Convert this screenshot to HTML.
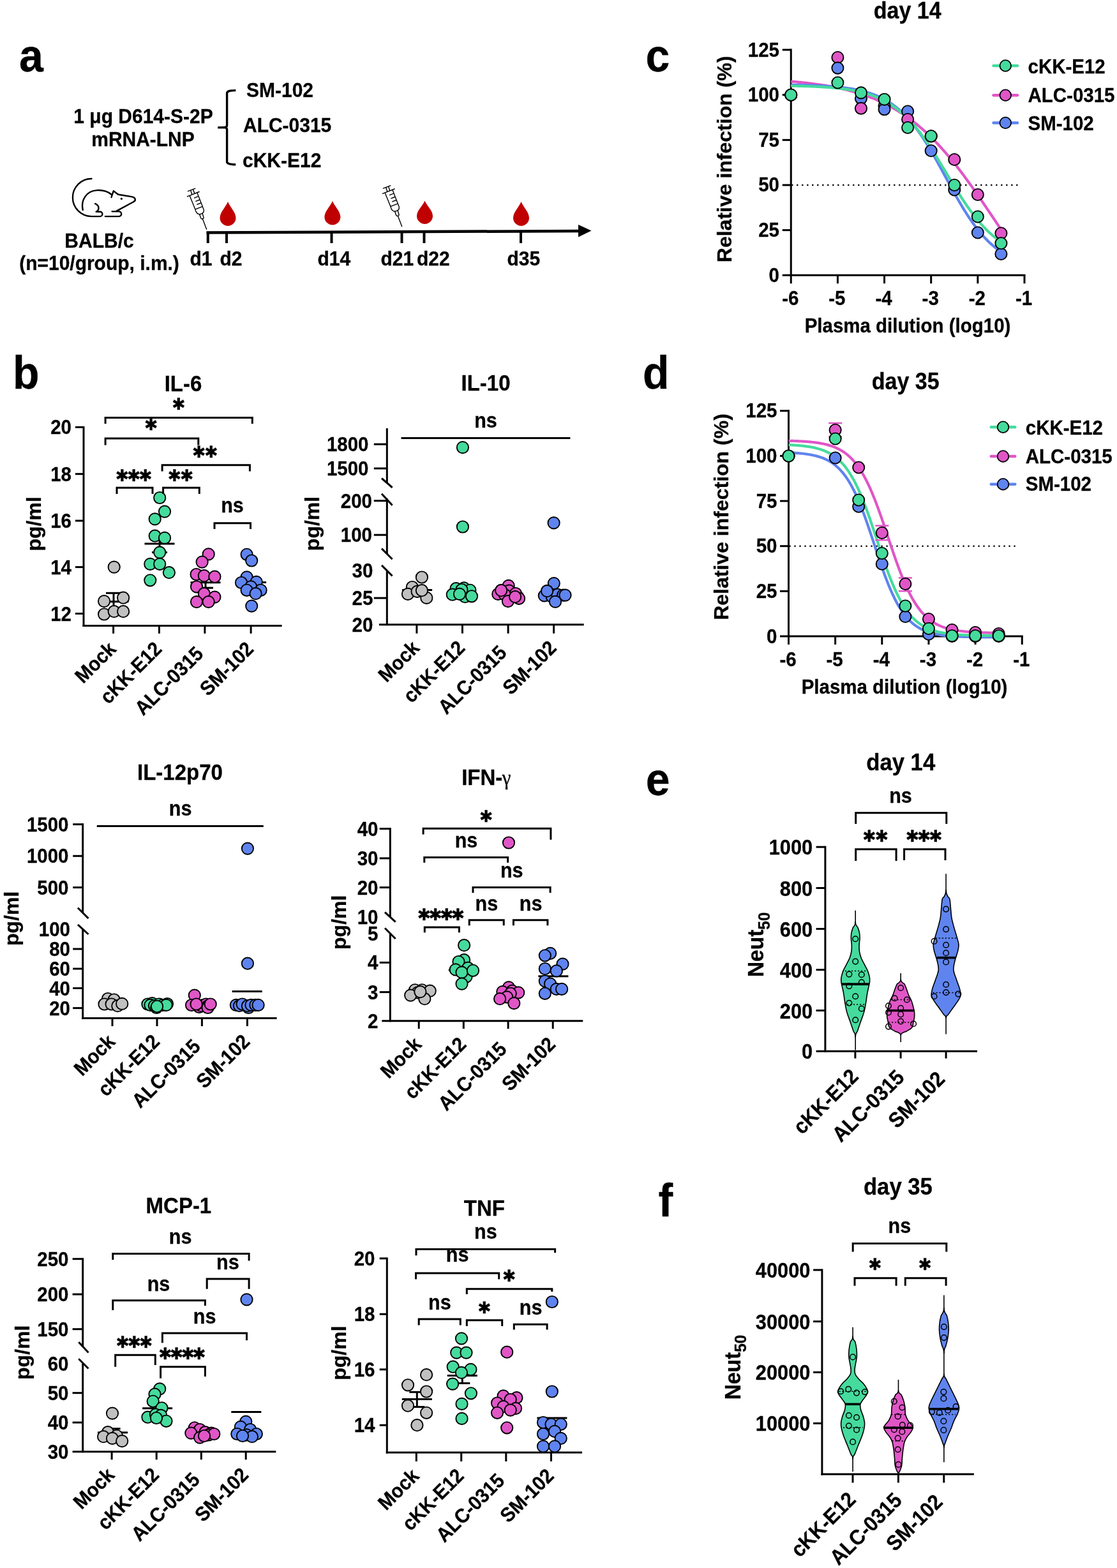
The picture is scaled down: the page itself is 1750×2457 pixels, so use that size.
<!DOCTYPE html>
<html><head><meta charset="utf-8"><title>Figure</title>
<style>html,body{margin:0;padding:0;background:#fff;}svg{display:block;}svg text{stroke:#000;stroke-width:0.3px;stroke-linejoin:round;}</style></head>
<body><svg xmlns="http://www.w3.org/2000/svg" width="1750" height="2457" viewBox="0 0 1750 2457" font-family='"Liberation Sans", Arial, Helvetica, sans-serif' fill="#000">
<rect x="0" y="0" width="1750" height="2457" fill="#fff"/>
<text x="0" y="0" font-size="68" text-anchor="start" font-weight="bold" transform="translate(30 112) scale(1 1.070)">a</text>
<text x="0" y="0" font-size="30" text-anchor="middle" font-weight="bold" transform="translate(224.5 193.3) scale(1 1.070)">1 &#956;g D614-S-2P</text>
<text x="0" y="0" font-size="30" text-anchor="middle" font-weight="bold" transform="translate(224 228.8) scale(1 1.070)">mRNA-LNP</text>
<path d="M369.3,141.6 C362,141.8 355.6,142 355.6,146 L355.6,196.5 Q355.6,199.4 351.5,199.6 L341.2,199.9 M351.5,199.6 Q355.6,199.8 355.6,203 L355.6,253.5 C355.6,257 362,257.6 369.3,257.9" stroke="#000" stroke-width="3.4" fill="none" stroke-linecap="butt" stroke-linejoin="round"/>
<text x="0" y="0" font-size="30" text-anchor="start" font-weight="bold" transform="translate(386 151.8) scale(1 1.070)">SM-102</text>
<text x="0" y="0" font-size="30" text-anchor="start" font-weight="bold" transform="translate(381 206.8) scale(1 1.070)">ALC-0315</text>
<text x="0" y="0" font-size="30" text-anchor="start" font-weight="bold" transform="translate(380 261.8) scale(1 1.070)">cKK-E12</text>
<g transform="translate(105,270) scale(0.07391)" fill="none" stroke="#000" stroke-width="32" stroke-linecap="round" stroke-linejoin="round">
<path d="M520,135 A400,400 0 0 0 520,935 L700,935 A50,50 0 0 0 700,835 L620,835"/>
<path d="M595,665 C690,700 690,800 620,835"/>
<path d="M335,800 C290,600 400,390 640,380 C780,375 880,420 940,470"/>
<path d="M940,530 L985,395 L1085,470"/>
<path d="M1085,470 L1380,520 C1450,535 1470,600 1410,625 L1050,820"/>
<path d="M955,830 L1100,830 A52,52 0 0 1 1100,935 L810,935"/>
<circle cx="1155" cy="560" r="22" fill="#000" stroke="none"/>
</g>
<text x="0" y="0" font-size="30" text-anchor="middle" font-weight="bold" transform="translate(155.5 388.3) scale(1 1.070)">BALB/c</text>
<text x="0" y="0" font-size="30" text-anchor="middle" font-weight="bold" transform="translate(155.5 423.3) scale(1 1.070)">(n=10/group, i.m.)</text>
<g transform="translate(285,285) scale(0.03694)" fill="none" stroke="#000" stroke-width="38" stroke-linecap="round" stroke-linejoin="round">
<path d="M255,395 L560,280 M375,370 L425,530 M480,330 L535,495 M230,620 L735,420"/>
<path d="M330,590 L570,1180 C600,1310 680,1375 760,1375 L860,1335 C930,1290 940,1240 925,1180 L650,470"/>
<path d="M530,680 L680,620 M590,820 L740,765 M645,960 L795,900 M575,1160 L855,1050"/>
<path d="M750,1380 L800,1530 C820,1580 900,1590 925,1520 L870,1340"/>
<path d="M880,1580 L1045,2010"/>
</g>
<g transform="translate(591,280.5) scale(0.03694)" fill="none" stroke="#000" stroke-width="38" stroke-linecap="round" stroke-linejoin="round">
<path d="M255,395 L560,280 M375,370 L425,530 M480,330 L535,495 M230,620 L735,420"/>
<path d="M330,590 L570,1180 C600,1310 680,1375 760,1375 L860,1335 C930,1290 940,1240 925,1180 L650,470"/>
<path d="M530,680 L680,620 M590,820 L740,765 M645,960 L795,900 M575,1160 L855,1050"/>
<path d="M750,1380 L800,1530 C820,1580 900,1590 925,1520 L870,1340"/>
<path d="M880,1580 L1045,2010"/>
</g>
<path d="M357,316 C360,324 369.5,332.5 369.5,341.5 A12.5,12.5 0 0 1 344.5,341.5 C344.5,332.5 354,324 357,316 Z" stroke="none" stroke-width="0" fill="#C00000"/>
<path d="M520.9,315 C523.9,323 533.4,331 533.4,340 A12.5,12.5 0 0 1 508.4,340 C508.4,331 517.9,323 520.9,315 Z" stroke="none" stroke-width="0" fill="#C00000"/>
<path d="M665.5,314.5 C668.5,322.5 678,329.5 678,338.5 A12.5,12.5 0 0 1 653,338.5 C653,329.5 662.5,322.5 665.5,314.5 Z" stroke="none" stroke-width="0" fill="#C00000"/>
<path d="M816.5,316 C819.5,324 829,332.5 829,341.5 A12.5,12.5 0 0 1 804,341.5 C804,332.5 813.5,324 816.5,316 Z" stroke="none" stroke-width="0" fill="#C00000"/>
<line x1="323.5" y1="364.5" x2="910" y2="362" stroke="#000" stroke-width="4.5" stroke-linecap="butt"/>
<polygon points="906,352 926.5,361.5 906,371.5" fill="#000"/>
<line x1="325.75" y1="363" x2="325.75" y2="381" stroke="#000" stroke-width="4" stroke-linecap="butt"/>
<line x1="355" y1="363" x2="355" y2="381" stroke="#000" stroke-width="4" stroke-linecap="butt"/>
<line x1="519.5" y1="363" x2="519.5" y2="381" stroke="#000" stroke-width="4" stroke-linecap="butt"/>
<line x1="629.5" y1="363" x2="629.5" y2="381" stroke="#000" stroke-width="4" stroke-linecap="butt"/>
<line x1="664.5" y1="363" x2="664.5" y2="381" stroke="#000" stroke-width="4" stroke-linecap="butt"/>
<line x1="816" y1="363" x2="816" y2="381" stroke="#000" stroke-width="4" stroke-linecap="butt"/>
<text x="0" y="0" font-size="30" text-anchor="start" font-weight="bold" transform="translate(297.5 416.3) scale(1 1.070)">d1</text>
<text x="0" y="0" font-size="30" text-anchor="start" font-weight="bold" transform="translate(344.5 416.3) scale(1 1.070)">d2</text>
<text x="0" y="0" font-size="30" text-anchor="start" font-weight="bold" transform="translate(497.5 416.3) scale(1 1.070)">d14</text>
<text x="0" y="0" font-size="30" text-anchor="start" font-weight="bold" transform="translate(596.5 416.3) scale(1 1.070)">d21</text>
<text x="0" y="0" font-size="30" text-anchor="start" font-weight="bold" transform="translate(653 416.3) scale(1 1.070)">d22</text>
<text x="0" y="0" font-size="30" text-anchor="start" font-weight="bold" transform="translate(794.5 416.3) scale(1 1.070)">d35</text>
<text x="0" y="0" font-size="33" text-anchor="middle" font-weight="bold" transform="translate(287 613.4) scale(1 1.070)">IL-6</text>
<line x1="131" y1="668" x2="131" y2="981.9" stroke="#000" stroke-width="3" stroke-linecap="butt"/>
<line x1="129.5" y1="980.4" x2="441.6" y2="980.4" stroke="#000" stroke-width="3" stroke-linecap="butt"/>
<line x1="118" y1="669.4" x2="131" y2="669.4" stroke="#000" stroke-width="3" stroke-linecap="butt"/>
<text x="0" y="0" font-size="29.5" text-anchor="end" font-weight="bold" transform="translate(112 680.4) scale(1 1.070)">20</text>
<line x1="118" y1="742.7" x2="131" y2="742.7" stroke="#000" stroke-width="3" stroke-linecap="butt"/>
<text x="0" y="0" font-size="29.5" text-anchor="end" font-weight="bold" transform="translate(112 753.7) scale(1 1.070)">18</text>
<line x1="118" y1="816" x2="131" y2="816" stroke="#000" stroke-width="3" stroke-linecap="butt"/>
<text x="0" y="0" font-size="29.5" text-anchor="end" font-weight="bold" transform="translate(112 827) scale(1 1.070)">16</text>
<line x1="118" y1="888.6" x2="131" y2="888.6" stroke="#000" stroke-width="3" stroke-linecap="butt"/>
<text x="0" y="0" font-size="29.5" text-anchor="end" font-weight="bold" transform="translate(112 899.6) scale(1 1.070)">14</text>
<line x1="118" y1="961.5" x2="131" y2="961.5" stroke="#000" stroke-width="3" stroke-linecap="butt"/>
<text x="0" y="0" font-size="29.5" text-anchor="end" font-weight="bold" transform="translate(112 972.5) scale(1 1.070)">12</text>
<line x1="177.6" y1="980.4" x2="177.6" y2="992.7" stroke="#000" stroke-width="3" stroke-linecap="butt"/>
<line x1="249.4" y1="980.4" x2="249.4" y2="992.7" stroke="#000" stroke-width="3" stroke-linecap="butt"/>
<line x1="320.9" y1="980.4" x2="320.9" y2="992.7" stroke="#000" stroke-width="3" stroke-linecap="butt"/>
<line x1="393.1" y1="980.4" x2="393.1" y2="992.7" stroke="#000" stroke-width="3" stroke-linecap="butt"/>
<text x="0" y="0" font-size="29.5" text-anchor="end" font-weight="bold" transform="translate(183.6 1018.9) rotate(-45) scale(1 1.070)">Mock</text>
<text x="0" y="0" font-size="29.5" text-anchor="end" font-weight="bold" transform="translate(255.4 1018.9) rotate(-45) scale(1 1.070)">cKK-E12</text>
<text x="0" y="0" font-size="29.5" text-anchor="end" font-weight="bold" transform="translate(320.4 1026.4) rotate(-45) scale(1 1.070)">ALC-0315</text>
<text x="0" y="0" font-size="29.5" text-anchor="end" font-weight="bold" transform="translate(399.1 1018.9) rotate(-45) scale(1 1.070)">SM-102</text>
<text x="0" y="0" font-size="32" text-anchor="middle" font-weight="bold" transform="translate(64.2 820.9) rotate(-90)">pg/ml</text>
<line x1="178" y1="929.3" x2="178" y2="956.3" stroke="#000" stroke-width="3" stroke-linecap="butt"/>
<line x1="166" y1="929.3" x2="190" y2="929.3" stroke="#000" stroke-width="3" stroke-linecap="butt"/>
<line x1="166" y1="956.3" x2="190" y2="956.3" stroke="#000" stroke-width="3" stroke-linecap="butt"/>
<line x1="154.5" y1="942.8" x2="201.5" y2="942.8" stroke="#000" stroke-width="3" stroke-linecap="butt"/>
<line x1="250" y1="838.4" x2="250" y2="865.6" stroke="#000" stroke-width="3" stroke-linecap="butt"/>
<line x1="238" y1="838.4" x2="262" y2="838.4" stroke="#000" stroke-width="3" stroke-linecap="butt"/>
<line x1="238" y1="865.6" x2="262" y2="865.6" stroke="#000" stroke-width="3" stroke-linecap="butt"/>
<line x1="226.5" y1="852" x2="273.5" y2="852" stroke="#000" stroke-width="3" stroke-linecap="butt"/>
<line x1="322" y1="904.4" x2="322" y2="921.2" stroke="#000" stroke-width="3" stroke-linecap="butt"/>
<line x1="310" y1="904.4" x2="334" y2="904.4" stroke="#000" stroke-width="3" stroke-linecap="butt"/>
<line x1="310" y1="921.2" x2="334" y2="921.2" stroke="#000" stroke-width="3" stroke-linecap="butt"/>
<line x1="298.5" y1="912.8" x2="345.5" y2="912.8" stroke="#000" stroke-width="3" stroke-linecap="butt"/>
<line x1="393.6" y1="905" x2="393.6" y2="920" stroke="#000" stroke-width="3" stroke-linecap="butt"/>
<line x1="381.6" y1="905" x2="405.6" y2="905" stroke="#000" stroke-width="3" stroke-linecap="butt"/>
<line x1="381.6" y1="920" x2="405.6" y2="920" stroke="#000" stroke-width="3" stroke-linecap="butt"/>
<line x1="370.1" y1="912.4" x2="417.1" y2="912.4" stroke="#000" stroke-width="3" stroke-linecap="butt"/>
<circle cx="178.7" cy="888.6" r="9.15" fill="#C0C0C0" stroke="#000" stroke-width="1.9"/>
<circle cx="163.1" cy="942.1" r="9.15" fill="#C0C0C0" stroke="#000" stroke-width="1.9"/>
<circle cx="193.1" cy="936.7" r="9.15" fill="#C0C0C0" stroke="#000" stroke-width="1.9"/>
<circle cx="163.1" cy="962.5" r="9.15" fill="#C0C0C0" stroke="#000" stroke-width="1.9"/>
<circle cx="178.7" cy="958.2" r="9.15" fill="#C0C0C0" stroke="#000" stroke-width="1.9"/>
<circle cx="193.1" cy="958.2" r="9.15" fill="#C0C0C0" stroke="#000" stroke-width="1.9"/>
<circle cx="250.2" cy="780" r="9.15" fill="#45DB9D" stroke="#000" stroke-width="1.9"/>
<circle cx="258" cy="801.6" r="9.15" fill="#45DB9D" stroke="#000" stroke-width="1.9"/>
<circle cx="242.7" cy="813.4" r="9.15" fill="#45DB9D" stroke="#000" stroke-width="1.9"/>
<circle cx="242.7" cy="839.7" r="9.15" fill="#45DB9D" stroke="#000" stroke-width="1.9"/>
<circle cx="258" cy="842.9" r="9.15" fill="#45DB9D" stroke="#000" stroke-width="1.9"/>
<circle cx="250.2" cy="865.6" r="9.15" fill="#45DB9D" stroke="#000" stroke-width="1.9"/>
<circle cx="235.3" cy="883.9" r="9.15" fill="#45DB9D" stroke="#000" stroke-width="1.9"/>
<circle cx="250.2" cy="883.9" r="9.15" fill="#45DB9D" stroke="#000" stroke-width="1.9"/>
<circle cx="264.9" cy="897.2" r="9.15" fill="#45DB9D" stroke="#000" stroke-width="1.9"/>
<circle cx="235.3" cy="909.3" r="9.15" fill="#45DB9D" stroke="#000" stroke-width="1.9"/>
<circle cx="326.7" cy="868.4" r="9.15" fill="#E056C7" stroke="#000" stroke-width="1.9"/>
<circle cx="316.6" cy="880.6" r="9.15" fill="#E056C7" stroke="#000" stroke-width="1.9"/>
<circle cx="307.6" cy="900" r="9.15" fill="#E056C7" stroke="#000" stroke-width="1.9"/>
<circle cx="319.8" cy="902.2" r="9.15" fill="#E056C7" stroke="#000" stroke-width="1.9"/>
<circle cx="336.4" cy="903.7" r="9.15" fill="#E056C7" stroke="#000" stroke-width="1.9"/>
<circle cx="308" cy="919.4" r="9.15" fill="#E056C7" stroke="#000" stroke-width="1.9"/>
<circle cx="319.8" cy="930.2" r="9.15" fill="#E056C7" stroke="#000" stroke-width="1.9"/>
<circle cx="336.4" cy="935.6" r="9.15" fill="#E056C7" stroke="#000" stroke-width="1.9"/>
<circle cx="308" cy="943.1" r="9.15" fill="#E056C7" stroke="#000" stroke-width="1.9"/>
<circle cx="326.7" cy="943.1" r="9.15" fill="#E056C7" stroke="#000" stroke-width="1.9"/>
<circle cx="386.6" cy="868.8" r="9.15" fill="#5F84EF" stroke="#000" stroke-width="1.9"/>
<circle cx="394.2" cy="878.5" r="9.15" fill="#5F84EF" stroke="#000" stroke-width="1.9"/>
<circle cx="386.6" cy="904.4" r="9.15" fill="#5F84EF" stroke="#000" stroke-width="1.9"/>
<circle cx="378" cy="913" r="9.15" fill="#5F84EF" stroke="#000" stroke-width="1.9"/>
<circle cx="401.7" cy="911.9" r="9.15" fill="#5F84EF" stroke="#000" stroke-width="1.9"/>
<circle cx="393.1" cy="919.4" r="9.15" fill="#5F84EF" stroke="#000" stroke-width="1.9"/>
<circle cx="386.6" cy="924.8" r="9.15" fill="#5F84EF" stroke="#000" stroke-width="1.9"/>
<circle cx="408.6" cy="924.8" r="9.15" fill="#5F84EF" stroke="#000" stroke-width="1.9"/>
<circle cx="400.6" cy="930.2" r="9.15" fill="#5F84EF" stroke="#000" stroke-width="1.9"/>
<circle cx="394.2" cy="949.6" r="9.15" fill="#5F84EF" stroke="#000" stroke-width="1.9"/>
<path d="M165.1,664 L165.1,654.4 L395.3,654.4 L395.3,664" stroke="#000" stroke-width="3" fill="none" stroke-linejoin="miter"/>
<text x="279.6" y="642.2" font-size="25.4" text-anchor="middle" font-weight="bold" font-family="DejaVu Sans" letter-spacing="0">&#10033;</text>
<path d="M165.1,697.5 L165.1,687.1 L310.8,687.1 L310.8,697.5" stroke="#000" stroke-width="3" fill="none" stroke-linejoin="miter"/>
<text x="236.5" y="674.4" font-size="25.4" text-anchor="middle" font-weight="bold" font-family="DejaVu Sans" letter-spacing="0">&#10033;</text>
<path d="M254.1,738.4 L254.1,728.7 L391.4,728.7 L391.4,738.4" stroke="#000" stroke-width="3" fill="none" stroke-linejoin="miter"/>
<text x="320.05" y="716.6" font-size="25.4" text-anchor="middle" font-weight="bold" font-family="DejaVu Sans" letter-spacing="-1.9">&#10033;&#10033;</text>
<path d="M183,774 L183,764.3 L239,764.3 L239,774" stroke="#000" stroke-width="3" fill="none" stroke-linejoin="miter"/>
<text x="207.8" y="754.3" font-size="25.4" text-anchor="middle" font-weight="bold" font-family="DejaVu Sans" letter-spacing="-3">&#10033;&#10033;&#10033;</text>
<path d="M255.6,774 L255.6,764.3 L312.3,764.3 L312.3,774" stroke="#000" stroke-width="3" fill="none" stroke-linejoin="miter"/>
<text x="281.85" y="754.3" font-size="25.4" text-anchor="middle" font-weight="bold" font-family="DejaVu Sans" letter-spacing="-1.9">&#10033;&#10033;</text>
<path d="M336,828.9 L336,819.7 L392.5,819.7 L392.5,828.9" stroke="#000" stroke-width="3" fill="none" stroke-linejoin="miter"/>
<text x="0" y="0" font-size="30.5" text-anchor="middle" font-weight="bold" transform="translate(364 803) scale(1 1.070)">ns</text>
<text x="0" y="0" font-size="33" text-anchor="middle" font-weight="bold" transform="translate(761 611.6) scale(1 1.070)">IL-10</text>
<line x1="606.3" y1="671.1" x2="606.3" y2="756.5" stroke="#000" stroke-width="3" stroke-linecap="butt"/>
<line x1="606.3" y1="781" x2="606.3" y2="868" stroke="#000" stroke-width="3" stroke-linecap="butt"/>
<line x1="606.3" y1="894" x2="606.3" y2="980.2" stroke="#000" stroke-width="3" stroke-linecap="butt"/>
<line x1="598" y1="749.5" x2="614.6" y2="764" stroke="#000" stroke-width="3" stroke-linecap="butt"/>
<line x1="598" y1="773.7" x2="614.6" y2="791.7" stroke="#000" stroke-width="3" stroke-linecap="butt"/>
<line x1="598" y1="859.6" x2="614.6" y2="876.2" stroke="#000" stroke-width="3" stroke-linecap="butt"/>
<line x1="598" y1="885.9" x2="614.6" y2="902.5" stroke="#000" stroke-width="3" stroke-linecap="butt"/>
<line x1="593.9" y1="978.7" x2="914.7" y2="978.7" stroke="#000" stroke-width="3" stroke-linecap="butt"/>
<line x1="585.8" y1="696.1" x2="606.3" y2="696.1" stroke="#000" stroke-width="3" stroke-linecap="butt"/>
<text x="0" y="0" font-size="29.5" text-anchor="end" font-weight="bold" transform="translate(577.5 707.1) scale(1 1.070)">1800</text>
<line x1="585.8" y1="734" x2="606.3" y2="734" stroke="#000" stroke-width="3" stroke-linecap="butt"/>
<text x="0" y="0" font-size="29.5" text-anchor="end" font-weight="bold" transform="translate(577.5 745) scale(1 1.070)">1500</text>
<line x1="585.8" y1="784.7" x2="606.3" y2="784.7" stroke="#000" stroke-width="3" stroke-linecap="butt"/>
<text x="0" y="0" font-size="29.5" text-anchor="end" font-weight="bold" transform="translate(583 795.7) scale(1 1.070)">200</text>
<line x1="585.8" y1="838.2" x2="606.3" y2="838.2" stroke="#000" stroke-width="3" stroke-linecap="butt"/>
<text x="0" y="0" font-size="29.5" text-anchor="end" font-weight="bold" transform="translate(583 849.2) scale(1 1.070)">100</text>
<line x1="585.8" y1="937.1" x2="606.3" y2="937.1" stroke="#000" stroke-width="3" stroke-linecap="butt"/>
<text x="0" y="0" font-size="29.5" text-anchor="end" font-weight="bold" transform="translate(584.4 948.1) scale(1 1.070)">25</text>
<text x="0" y="0" font-size="29.5" text-anchor="end" font-weight="bold" transform="translate(584.4 905.2) scale(1 1.070)">30</text>
<text x="0" y="0" font-size="29.5" text-anchor="end" font-weight="bold" transform="translate(584.4 989.7) scale(1 1.070)">20</text>
<line x1="652.9" y1="978.7" x2="652.9" y2="992.6" stroke="#000" stroke-width="3" stroke-linecap="butt"/>
<line x1="724.4" y1="978.7" x2="724.4" y2="992.6" stroke="#000" stroke-width="3" stroke-linecap="butt"/>
<line x1="796.1" y1="978.7" x2="796.1" y2="992.6" stroke="#000" stroke-width="3" stroke-linecap="butt"/>
<line x1="867.6" y1="978.7" x2="867.6" y2="992.6" stroke="#000" stroke-width="3" stroke-linecap="butt"/>
<text x="0" y="0" font-size="29.5" text-anchor="end" font-weight="bold" transform="translate(658.9 1017.2) rotate(-45) scale(1 1.070)">Mock</text>
<text x="0" y="0" font-size="29.5" text-anchor="end" font-weight="bold" transform="translate(730.4 1017.2) rotate(-45) scale(1 1.070)">cKK-E12</text>
<text x="0" y="0" font-size="29.5" text-anchor="end" font-weight="bold" transform="translate(795.6 1024.7) rotate(-45) scale(1 1.070)">ALC-0315</text>
<text x="0" y="0" font-size="29.5" text-anchor="end" font-weight="bold" transform="translate(873.6 1017.2) rotate(-45) scale(1 1.070)">SM-102</text>
<text x="0" y="0" font-size="32" text-anchor="middle" font-weight="bold" transform="translate(499.7 820.5) rotate(-90)">pg/ml</text>
<line x1="628.5" y1="686.4" x2="893.4" y2="686.4" stroke="#000" stroke-width="3" stroke-linecap="butt"/>
<text x="0" y="0" font-size="30.5" text-anchor="middle" font-weight="bold" transform="translate(761 669.8) scale(1 1.070)">ns</text>
<line x1="630.1" y1="924.5" x2="677.1" y2="924.5" stroke="#000" stroke-width="3" stroke-linecap="butt"/>
<line x1="772.6" y1="930" x2="819.6" y2="930" stroke="#000" stroke-width="3" stroke-linecap="butt"/>
<circle cx="660.9" cy="904.5" r="9.15" fill="#C0C0C0" stroke="#000" stroke-width="1.9"/>
<circle cx="645.9" cy="920" r="9.15" fill="#C0C0C0" stroke="#000" stroke-width="1.9"/>
<circle cx="639" cy="930.9" r="9.15" fill="#C0C0C0" stroke="#000" stroke-width="1.9"/>
<circle cx="653.6" cy="926.9" r="9.15" fill="#C0C0C0" stroke="#000" stroke-width="1.9"/>
<circle cx="668.3" cy="936.9" r="9.15" fill="#C0C0C0" stroke="#000" stroke-width="1.9"/>
<circle cx="660.9" cy="925.2" r="9.15" fill="#C0C0C0" stroke="#000" stroke-width="1.9"/>
<circle cx="724.9" cy="701.1" r="9.15" fill="#45DB9D" stroke="#000" stroke-width="1.9"/>
<circle cx="724.9" cy="825.5" r="9.15" fill="#45DB9D" stroke="#000" stroke-width="1.9"/>
<circle cx="714.5" cy="922.2" r="9.15" fill="#45DB9D" stroke="#000" stroke-width="1.9"/>
<circle cx="726.9" cy="921.4" r="9.15" fill="#45DB9D" stroke="#000" stroke-width="1.9"/>
<circle cx="736.4" cy="924.8" r="9.15" fill="#45DB9D" stroke="#000" stroke-width="1.9"/>
<circle cx="708.8" cy="931.7" r="9.15" fill="#45DB9D" stroke="#000" stroke-width="1.9"/>
<circle cx="728.6" cy="935.2" r="9.15" fill="#45DB9D" stroke="#000" stroke-width="1.9"/>
<circle cx="739" cy="934.3" r="9.15" fill="#45DB9D" stroke="#000" stroke-width="1.9"/>
<circle cx="723.4" cy="924" r="9.15" fill="#45DB9D" stroke="#000" stroke-width="1.9"/>
<circle cx="720" cy="930.9" r="9.15" fill="#45DB9D" stroke="#000" stroke-width="1.9"/>
<circle cx="796.7" cy="917.9" r="9.15" fill="#E056C7" stroke="#000" stroke-width="1.9"/>
<circle cx="785.2" cy="925.2" r="9.15" fill="#E056C7" stroke="#000" stroke-width="1.9"/>
<circle cx="797.6" cy="925.7" r="9.15" fill="#E056C7" stroke="#000" stroke-width="1.9"/>
<circle cx="807.9" cy="930" r="9.15" fill="#E056C7" stroke="#000" stroke-width="1.9"/>
<circle cx="780.3" cy="930.9" r="9.15" fill="#E056C7" stroke="#000" stroke-width="1.9"/>
<circle cx="790.7" cy="931.7" r="9.15" fill="#E056C7" stroke="#000" stroke-width="1.9"/>
<circle cx="813.1" cy="937.8" r="9.15" fill="#E056C7" stroke="#000" stroke-width="1.9"/>
<circle cx="795.9" cy="942.1" r="9.15" fill="#E056C7" stroke="#000" stroke-width="1.9"/>
<circle cx="807.1" cy="935.2" r="9.15" fill="#E056C7" stroke="#000" stroke-width="1.9"/>
<circle cx="785.2" cy="925.2" r="9.15" fill="#E056C7" stroke="#000" stroke-width="1.9"/>
<circle cx="867.6" cy="819.4" r="9.15" fill="#5F84EF" stroke="#000" stroke-width="1.9"/>
<circle cx="867.8" cy="914.1" r="9.15" fill="#5F84EF" stroke="#000" stroke-width="1.9"/>
<circle cx="857.1" cy="926.2" r="9.15" fill="#5F84EF" stroke="#000" stroke-width="1.9"/>
<circle cx="852.8" cy="933.4" r="9.15" fill="#5F84EF" stroke="#000" stroke-width="1.9"/>
<circle cx="864.8" cy="935.2" r="9.15" fill="#5F84EF" stroke="#000" stroke-width="1.9"/>
<circle cx="873.4" cy="931.7" r="9.15" fill="#5F84EF" stroke="#000" stroke-width="1.9"/>
<circle cx="882.1" cy="932.6" r="9.15" fill="#5F84EF" stroke="#000" stroke-width="1.9"/>
<circle cx="885.5" cy="932.6" r="9.15" fill="#5F84EF" stroke="#000" stroke-width="1.9"/>
<circle cx="870" cy="942.9" r="9.15" fill="#5F84EF" stroke="#000" stroke-width="1.9"/>
<circle cx="857.1" cy="926.2" r="9.15" fill="#5F84EF" stroke="#000" stroke-width="1.9"/>
<text x="0" y="0" font-size="33" text-anchor="middle" font-weight="bold" transform="translate(281.9 1221.6) scale(1 1.070)">IL-12p70</text>
<line x1="129.7" y1="1290.2" x2="129.7" y2="1430.8" stroke="#000" stroke-width="3" stroke-linecap="butt"/>
<line x1="129.7" y1="1456.4" x2="129.7" y2="1597.1" stroke="#000" stroke-width="3" stroke-linecap="butt"/>
<line x1="121.9" y1="1422.5" x2="138.5" y2="1439.1" stroke="#000" stroke-width="3" stroke-linecap="butt"/>
<line x1="121.9" y1="1448.8" x2="138.5" y2="1464" stroke="#000" stroke-width="3" stroke-linecap="butt"/>
<line x1="128.2" y1="1595.6" x2="433.6" y2="1595.6" stroke="#000" stroke-width="3" stroke-linecap="butt"/>
<line x1="114.2" y1="1291.7" x2="129.7" y2="1291.7" stroke="#000" stroke-width="3" stroke-linecap="butt"/>
<text x="0" y="0" font-size="29.5" text-anchor="end" font-weight="bold" transform="translate(107.5 1302.7) scale(1 1.070)">1500</text>
<line x1="114.2" y1="1341.3" x2="129.7" y2="1341.3" stroke="#000" stroke-width="3" stroke-linecap="butt"/>
<text x="0" y="0" font-size="29.5" text-anchor="end" font-weight="bold" transform="translate(107.5 1352.3) scale(1 1.070)">1000</text>
<line x1="114.2" y1="1390.6" x2="129.7" y2="1390.6" stroke="#000" stroke-width="3" stroke-linecap="butt"/>
<text x="0" y="0" font-size="29.5" text-anchor="end" font-weight="bold" transform="translate(107.5 1401.6) scale(1 1.070)">500</text>
<line x1="114.2" y1="1487" x2="129.7" y2="1487" stroke="#000" stroke-width="3" stroke-linecap="butt"/>
<text x="0" y="0" font-size="29.5" text-anchor="end" font-weight="bold" transform="translate(110 1498) scale(1 1.070)">80</text>
<line x1="114.2" y1="1518" x2="129.7" y2="1518" stroke="#000" stroke-width="3" stroke-linecap="butt"/>
<text x="0" y="0" font-size="29.5" text-anchor="end" font-weight="bold" transform="translate(110 1529) scale(1 1.070)">60</text>
<line x1="114.2" y1="1548.5" x2="129.7" y2="1548.5" stroke="#000" stroke-width="3" stroke-linecap="butt"/>
<text x="0" y="0" font-size="29.5" text-anchor="end" font-weight="bold" transform="translate(110 1559.5) scale(1 1.070)">40</text>
<line x1="114.2" y1="1579.6" x2="129.7" y2="1579.6" stroke="#000" stroke-width="3" stroke-linecap="butt"/>
<text x="0" y="0" font-size="29.5" text-anchor="end" font-weight="bold" transform="translate(110 1590.6) scale(1 1.070)">20</text>
<text x="0" y="0" font-size="29.5" text-anchor="end" font-weight="bold" transform="translate(110 1467) scale(1 1.070)">100</text>
<line x1="176" y1="1595.6" x2="176" y2="1608" stroke="#000" stroke-width="3" stroke-linecap="butt"/>
<line x1="246" y1="1595.6" x2="246" y2="1608" stroke="#000" stroke-width="3" stroke-linecap="butt"/>
<line x1="316.4" y1="1595.6" x2="316.4" y2="1608" stroke="#000" stroke-width="3" stroke-linecap="butt"/>
<line x1="387.4" y1="1595.6" x2="387.4" y2="1608" stroke="#000" stroke-width="3" stroke-linecap="butt"/>
<text x="0" y="0" font-size="29.5" text-anchor="end" font-weight="bold" transform="translate(182 1634.1) rotate(-45) scale(1 1.070)">Mock</text>
<text x="0" y="0" font-size="29.5" text-anchor="end" font-weight="bold" transform="translate(252 1634.1) rotate(-45) scale(1 1.070)">cKK-E12</text>
<text x="0" y="0" font-size="29.5" text-anchor="end" font-weight="bold" transform="translate(315.9 1641.6) rotate(-45) scale(1 1.070)">ALC-0315</text>
<text x="0" y="0" font-size="29.5" text-anchor="end" font-weight="bold" transform="translate(393.4 1634.1) rotate(-45) scale(1 1.070)">SM-102</text>
<text x="0" y="0" font-size="32" text-anchor="middle" font-weight="bold" transform="translate(28.7 1439.3) rotate(-90)">pg/ml</text>
<line x1="151.8" y1="1294.4" x2="412.8" y2="1294.4" stroke="#000" stroke-width="3" stroke-linecap="butt"/>
<text x="0" y="0" font-size="30.5" text-anchor="middle" font-weight="bold" transform="translate(282.6 1278.4) scale(1 1.070)">ns</text>
<line x1="363.7" y1="1553.5" x2="410.7" y2="1553.5" stroke="#000" stroke-width="3" stroke-linecap="butt"/>
<circle cx="169" cy="1565" r="9.15" fill="#C0C0C0" stroke="#000" stroke-width="1.9"/>
<circle cx="178.7" cy="1566.5" r="9.15" fill="#C0C0C0" stroke="#000" stroke-width="1.9"/>
<circle cx="163.5" cy="1573.5" r="9.15" fill="#C0C0C0" stroke="#000" stroke-width="1.9"/>
<circle cx="174.6" cy="1573.5" r="9.15" fill="#C0C0C0" stroke="#000" stroke-width="1.9"/>
<circle cx="184.3" cy="1576.2" r="9.15" fill="#C0C0C0" stroke="#000" stroke-width="1.9"/>
<circle cx="191.2" cy="1572.9" r="9.15" fill="#C0C0C0" stroke="#000" stroke-width="1.9"/>
<circle cx="231.4" cy="1573.5" r="9.15" fill="#45DB9D" stroke="#000" stroke-width="1.9"/>
<circle cx="238.3" cy="1572.1" r="9.15" fill="#45DB9D" stroke="#000" stroke-width="1.9"/>
<circle cx="235.5" cy="1574.9" r="9.15" fill="#45DB9D" stroke="#000" stroke-width="1.9"/>
<circle cx="242" cy="1576" r="9.15" fill="#45DB9D" stroke="#000" stroke-width="1.9"/>
<circle cx="249.4" cy="1573.5" r="9.15" fill="#45DB9D" stroke="#000" stroke-width="1.9"/>
<circle cx="245.2" cy="1579" r="9.15" fill="#45DB9D" stroke="#000" stroke-width="1.9"/>
<circle cx="255" cy="1575" r="9.15" fill="#45DB9D" stroke="#000" stroke-width="1.9"/>
<circle cx="262" cy="1573" r="9.15" fill="#45DB9D" stroke="#000" stroke-width="1.9"/>
<circle cx="260.5" cy="1574.9" r="9.15" fill="#45DB9D" stroke="#000" stroke-width="1.9"/>
<circle cx="246" cy="1577" r="9.15" fill="#45DB9D" stroke="#000" stroke-width="1.9"/>
<circle cx="304.8" cy="1559.6" r="9.15" fill="#E056C7" stroke="#000" stroke-width="1.9"/>
<circle cx="312" cy="1578" r="9.15" fill="#E056C7" stroke="#000" stroke-width="1.9"/>
<circle cx="318" cy="1575" r="9.15" fill="#E056C7" stroke="#000" stroke-width="1.9"/>
<circle cx="300" cy="1575" r="9.15" fill="#E056C7" stroke="#000" stroke-width="1.9"/>
<circle cx="315.9" cy="1576.2" r="9.15" fill="#E056C7" stroke="#000" stroke-width="1.9"/>
<circle cx="322.8" cy="1573.5" r="9.15" fill="#E056C7" stroke="#000" stroke-width="1.9"/>
<circle cx="326" cy="1576" r="9.15" fill="#E056C7" stroke="#000" stroke-width="1.9"/>
<circle cx="325.6" cy="1579" r="9.15" fill="#E056C7" stroke="#000" stroke-width="1.9"/>
<circle cx="329.7" cy="1573.5" r="9.15" fill="#E056C7" stroke="#000" stroke-width="1.9"/>
<circle cx="307.6" cy="1573.5" r="9.15" fill="#E056C7" stroke="#000" stroke-width="1.9"/>
<circle cx="387.9" cy="1329.6" r="9.15" fill="#5F84EF" stroke="#000" stroke-width="1.9"/>
<circle cx="387.9" cy="1509.7" r="9.15" fill="#5F84EF" stroke="#000" stroke-width="1.9"/>
<circle cx="369.9" cy="1574.9" r="9.15" fill="#5F84EF" stroke="#000" stroke-width="1.9"/>
<circle cx="375" cy="1576" r="9.15" fill="#5F84EF" stroke="#000" stroke-width="1.9"/>
<circle cx="379.6" cy="1573.5" r="9.15" fill="#5F84EF" stroke="#000" stroke-width="1.9"/>
<circle cx="389.3" cy="1579" r="9.15" fill="#5F84EF" stroke="#000" stroke-width="1.9"/>
<circle cx="387.9" cy="1576.2" r="9.15" fill="#5F84EF" stroke="#000" stroke-width="1.9"/>
<circle cx="393.5" cy="1574.9" r="9.15" fill="#5F84EF" stroke="#000" stroke-width="1.9"/>
<circle cx="400.4" cy="1574.9" r="9.15" fill="#5F84EF" stroke="#000" stroke-width="1.9"/>
<circle cx="404.6" cy="1574.9" r="9.15" fill="#5F84EF" stroke="#000" stroke-width="1.9"/>
<text x="0" y="0" font-size="33" text-anchor="start" font-weight="bold" transform="translate(723.2 1229.6) scale(1 1.070)">IFN-<tspan font-weight="normal" font-family="Liberation Serif" font-size="31" dx="-0.5">&#947;</tspan></text>
<line x1="611.3" y1="1297.1" x2="611.3" y2="1437" stroke="#000" stroke-width="3" stroke-linecap="butt"/>
<line x1="611.3" y1="1462.6" x2="611.3" y2="1601.3" stroke="#000" stroke-width="3" stroke-linecap="butt"/>
<line x1="603" y1="1429.4" x2="619.6" y2="1444.6" stroke="#000" stroke-width="3" stroke-linecap="butt"/>
<line x1="603" y1="1454.3" x2="619.6" y2="1471" stroke="#000" stroke-width="3" stroke-linecap="butt"/>
<line x1="598.3" y1="1599.8" x2="913.3" y2="1599.8" stroke="#000" stroke-width="3" stroke-linecap="butt"/>
<line x1="594.7" y1="1298.6" x2="611.3" y2="1298.6" stroke="#000" stroke-width="3" stroke-linecap="butt"/>
<text x="0" y="0" font-size="29.5" text-anchor="end" font-weight="bold" transform="translate(592.5 1309.6) scale(1 1.070)">40</text>
<line x1="594.7" y1="1344.9" x2="611.3" y2="1344.9" stroke="#000" stroke-width="3" stroke-linecap="butt"/>
<text x="0" y="0" font-size="29.5" text-anchor="end" font-weight="bold" transform="translate(592.5 1355.9) scale(1 1.070)">30</text>
<line x1="594.7" y1="1390.6" x2="611.3" y2="1390.6" stroke="#000" stroke-width="3" stroke-linecap="butt"/>
<text x="0" y="0" font-size="29.5" text-anchor="end" font-weight="bold" transform="translate(592.5 1401.6) scale(1 1.070)">20</text>
<line x1="594.7" y1="1508.3" x2="611.3" y2="1508.3" stroke="#000" stroke-width="3" stroke-linecap="butt"/>
<text x="0" y="0" font-size="29.5" text-anchor="end" font-weight="bold" transform="translate(592.5 1519.3) scale(1 1.070)">4</text>
<line x1="594.7" y1="1554.6" x2="611.3" y2="1554.6" stroke="#000" stroke-width="3" stroke-linecap="butt"/>
<text x="0" y="0" font-size="29.5" text-anchor="end" font-weight="bold" transform="translate(592.5 1565.6) scale(1 1.070)">3</text>
<text x="0" y="0" font-size="29.5" text-anchor="end" font-weight="bold" transform="translate(592.5 1447.9) scale(1 1.070)">10</text>
<text x="0" y="0" font-size="29.5" text-anchor="end" font-weight="bold" transform="translate(592.5 1473.7) scale(1 1.070)">5</text>
<text x="0" y="0" font-size="29.5" text-anchor="end" font-weight="bold" transform="translate(592.5 1610.8) scale(1 1.070)">2</text>
<line x1="656.2" y1="1599.8" x2="656.2" y2="1612" stroke="#000" stroke-width="3" stroke-linecap="butt"/>
<line x1="726.3" y1="1599.8" x2="726.3" y2="1612" stroke="#000" stroke-width="3" stroke-linecap="butt"/>
<line x1="796.1" y1="1599.8" x2="796.1" y2="1612" stroke="#000" stroke-width="3" stroke-linecap="butt"/>
<line x1="866.2" y1="1599.8" x2="866.2" y2="1612" stroke="#000" stroke-width="3" stroke-linecap="butt"/>
<text x="0" y="0" font-size="29.5" text-anchor="end" font-weight="bold" transform="translate(662.2 1638.3) rotate(-45) scale(1 1.070)">Mock</text>
<text x="0" y="0" font-size="29.5" text-anchor="end" font-weight="bold" transform="translate(732.3 1638.3) rotate(-45) scale(1 1.070)">cKK-E12</text>
<text x="0" y="0" font-size="29.5" text-anchor="end" font-weight="bold" transform="translate(795.6 1645.8) rotate(-45) scale(1 1.070)">ALC-0315</text>
<text x="0" y="0" font-size="29.5" text-anchor="end" font-weight="bold" transform="translate(872.2 1638.3) rotate(-45) scale(1 1.070)">SM-102</text>
<text x="0" y="0" font-size="32" text-anchor="middle" font-weight="bold" transform="translate(541.6 1445.3) rotate(-90)">pg/ml</text>
<line x1="702.8" y1="1520" x2="749.8" y2="1520" stroke="#000" stroke-width="3" stroke-linecap="butt"/>
<line x1="843.4" y1="1529.7" x2="890.4" y2="1529.7" stroke="#000" stroke-width="3" stroke-linecap="butt"/>
<circle cx="650.1" cy="1551.3" r="9.15" fill="#C0C0C0" stroke="#000" stroke-width="1.9"/>
<circle cx="661.2" cy="1551.3" r="9.15" fill="#C0C0C0" stroke="#000" stroke-width="1.9"/>
<circle cx="673.7" cy="1552.7" r="9.15" fill="#C0C0C0" stroke="#000" stroke-width="1.9"/>
<circle cx="654.3" cy="1555.4" r="9.15" fill="#C0C0C0" stroke="#000" stroke-width="1.9"/>
<circle cx="643.2" cy="1559.6" r="9.15" fill="#C0C0C0" stroke="#000" stroke-width="1.9"/>
<circle cx="665.3" cy="1565.2" r="9.15" fill="#C0C0C0" stroke="#000" stroke-width="1.9"/>
<circle cx="658.4" cy="1554.1" r="9.15" fill="#C0C0C0" stroke="#000" stroke-width="1.9"/>
<circle cx="727.1" cy="1481.2" r="9.15" fill="#45DB9D" stroke="#000" stroke-width="1.9"/>
<circle cx="727.1" cy="1504.2" r="9.15" fill="#45DB9D" stroke="#000" stroke-width="1.9"/>
<circle cx="718.5" cy="1507" r="9.15" fill="#45DB9D" stroke="#000" stroke-width="1.9"/>
<circle cx="713.8" cy="1519.4" r="9.15" fill="#45DB9D" stroke="#000" stroke-width="1.9"/>
<circle cx="733.2" cy="1516.7" r="9.15" fill="#45DB9D" stroke="#000" stroke-width="1.9"/>
<circle cx="730.5" cy="1530.5" r="9.15" fill="#45DB9D" stroke="#000" stroke-width="1.9"/>
<circle cx="723.5" cy="1523.6" r="9.15" fill="#45DB9D" stroke="#000" stroke-width="1.9"/>
<circle cx="741" cy="1520.8" r="9.15" fill="#45DB9D" stroke="#000" stroke-width="1.9"/>
<circle cx="723.5" cy="1541.6" r="9.15" fill="#45DB9D" stroke="#000" stroke-width="1.9"/>
<circle cx="797" cy="1320.5" r="9.15" fill="#E056C7" stroke="#000" stroke-width="1.9"/>
<circle cx="797" cy="1547.1" r="9.15" fill="#E056C7" stroke="#000" stroke-width="1.9"/>
<circle cx="787.3" cy="1554.1" r="9.15" fill="#E056C7" stroke="#000" stroke-width="1.9"/>
<circle cx="802.5" cy="1552.7" r="9.15" fill="#E056C7" stroke="#000" stroke-width="1.9"/>
<circle cx="812.2" cy="1555.4" r="9.15" fill="#E056C7" stroke="#000" stroke-width="1.9"/>
<circle cx="799.7" cy="1556.8" r="9.15" fill="#E056C7" stroke="#000" stroke-width="1.9"/>
<circle cx="794.2" cy="1562.4" r="9.15" fill="#E056C7" stroke="#000" stroke-width="1.9"/>
<circle cx="783.1" cy="1565.2" r="9.15" fill="#E056C7" stroke="#000" stroke-width="1.9"/>
<circle cx="805.3" cy="1572.1" r="9.15" fill="#E056C7" stroke="#000" stroke-width="1.9"/>
<circle cx="862.1" cy="1493.9" r="9.15" fill="#5F84EF" stroke="#000" stroke-width="1.9"/>
<circle cx="853.8" cy="1497.3" r="9.15" fill="#5F84EF" stroke="#000" stroke-width="1.9"/>
<circle cx="881.5" cy="1510.6" r="9.15" fill="#5F84EF" stroke="#000" stroke-width="1.9"/>
<circle cx="853.8" cy="1518" r="9.15" fill="#5F84EF" stroke="#000" stroke-width="1.9"/>
<circle cx="871.8" cy="1521.4" r="9.15" fill="#5F84EF" stroke="#000" stroke-width="1.9"/>
<circle cx="853.8" cy="1537.4" r="9.15" fill="#5F84EF" stroke="#000" stroke-width="1.9"/>
<circle cx="862.1" cy="1541.6" r="9.15" fill="#5F84EF" stroke="#000" stroke-width="1.9"/>
<circle cx="871.8" cy="1549.9" r="9.15" fill="#5F84EF" stroke="#000" stroke-width="1.9"/>
<circle cx="880.1" cy="1549.9" r="9.15" fill="#5F84EF" stroke="#000" stroke-width="1.9"/>
<circle cx="853.8" cy="1556.8" r="9.15" fill="#5F84EF" stroke="#000" stroke-width="1.9"/>
<path d="M663.1,1307.5 L663.1,1298.3 L862.9,1298.3 L862.9,1315.8" stroke="#000" stroke-width="3" fill="none" stroke-linejoin="miter"/>
<text x="761.3" y="1287.8" font-size="25.4" text-anchor="middle" font-weight="bold" font-family="DejaVu Sans" letter-spacing="0">&#10033;</text>
<path d="M664.8,1351.8 L664.8,1343.5 L795.6,1343.5 L795.6,1351.8" stroke="#000" stroke-width="3" fill="none" stroke-linejoin="miter"/>
<text x="0" y="0" font-size="30.5" text-anchor="middle" font-weight="bold" transform="translate(730.5 1328) scale(1 1.070)">ns</text>
<path d="M741,1398.9 L741,1390.6 L862.1,1390.6 L862.1,1398.9" stroke="#000" stroke-width="3" fill="none" stroke-linejoin="miter"/>
<text x="0" y="0" font-size="30.5" text-anchor="middle" font-weight="bold" transform="translate(801.7 1374.5) scale(1 1.070)">ns</text>
<path d="M665.3,1461.2 L665.3,1452.9 L719.4,1452.9 L719.4,1461.2" stroke="#000" stroke-width="3" fill="none" stroke-linejoin="miter"/>
<text x="688.9" y="1441.5" font-size="25.4" text-anchor="middle" font-weight="bold" font-family="DejaVu Sans" letter-spacing="-3.6">&#10033;&#10033;&#10033;&#10033;</text>
<path d="M735.2,1450.2 L735.2,1441.8 L789.2,1441.8 L789.2,1450.2" stroke="#000" stroke-width="3" fill="none" stroke-linejoin="miter"/>
<text x="0" y="0" font-size="30.5" text-anchor="middle" font-weight="bold" transform="translate(762.3 1427) scale(1 1.070)">ns</text>
<path d="M804.4,1450.2 L804.4,1441.8 L857.9,1441.8 L857.9,1450.2" stroke="#000" stroke-width="3" fill="none" stroke-linejoin="miter"/>
<text x="0" y="0" font-size="30.5" text-anchor="middle" font-weight="bold" transform="translate(831.6 1427) scale(1 1.070)">ns</text>
<text x="0" y="0" font-size="33" text-anchor="middle" font-weight="bold" transform="translate(279.9 1900.7) scale(1 1.070)">MCP-1</text>
<line x1="129.7" y1="1971.2" x2="129.7" y2="2111" stroke="#000" stroke-width="3" stroke-linecap="butt"/>
<line x1="129.7" y1="2137" x2="129.7" y2="2276.2" stroke="#000" stroke-width="3" stroke-linecap="butt"/>
<line x1="123.3" y1="2102.9" x2="138.5" y2="2119.6" stroke="#000" stroke-width="3" stroke-linecap="butt"/>
<line x1="123.3" y1="2129.3" x2="138.5" y2="2144.5" stroke="#000" stroke-width="3" stroke-linecap="butt"/>
<line x1="113.6" y1="2274.7" x2="432.3" y2="2274.7" stroke="#000" stroke-width="3" stroke-linecap="butt"/>
<line x1="113.6" y1="1972.7" x2="129.7" y2="1972.7" stroke="#000" stroke-width="3" stroke-linecap="butt"/>
<text x="0" y="0" font-size="29.5" text-anchor="end" font-weight="bold" transform="translate(107.5 1983.7) scale(1 1.070)">250</text>
<line x1="113.6" y1="2028.1" x2="129.7" y2="2028.1" stroke="#000" stroke-width="3" stroke-linecap="butt"/>
<text x="0" y="0" font-size="29.5" text-anchor="end" font-weight="bold" transform="translate(107.5 2039.1) scale(1 1.070)">200</text>
<line x1="113.6" y1="2082.7" x2="129.7" y2="2082.7" stroke="#000" stroke-width="3" stroke-linecap="butt"/>
<text x="0" y="0" font-size="29.5" text-anchor="end" font-weight="bold" transform="translate(107.5 2093.7) scale(1 1.070)">150</text>
<line x1="113.6" y1="2182.7" x2="129.7" y2="2182.7" stroke="#000" stroke-width="3" stroke-linecap="butt"/>
<text x="0" y="0" font-size="29.5" text-anchor="end" font-weight="bold" transform="translate(107.5 2193.7) scale(1 1.070)">50</text>
<line x1="113.6" y1="2229" x2="129.7" y2="2229" stroke="#000" stroke-width="3" stroke-linecap="butt"/>
<text x="0" y="0" font-size="29.5" text-anchor="end" font-weight="bold" transform="translate(107.5 2240) scale(1 1.070)">40</text>
<text x="0" y="0" font-size="29.5" text-anchor="end" font-weight="bold" transform="translate(107.5 2148) scale(1 1.070)">60</text>
<text x="0" y="0" font-size="29.5" text-anchor="end" font-weight="bold" transform="translate(107.5 2285.7) scale(1 1.070)">30</text>
<line x1="175.1" y1="2274.7" x2="175.1" y2="2287.2" stroke="#000" stroke-width="3" stroke-linecap="butt"/>
<line x1="245.2" y1="2274.7" x2="245.2" y2="2287.2" stroke="#000" stroke-width="3" stroke-linecap="butt"/>
<line x1="315.3" y1="2274.7" x2="315.3" y2="2287.2" stroke="#000" stroke-width="3" stroke-linecap="butt"/>
<line x1="385.2" y1="2274.7" x2="385.2" y2="2287.2" stroke="#000" stroke-width="3" stroke-linecap="butt"/>
<text x="0" y="0" font-size="29.5" text-anchor="end" font-weight="bold" transform="translate(181.1 2313.2) rotate(-45) scale(1 1.070)">Mock</text>
<text x="0" y="0" font-size="29.5" text-anchor="end" font-weight="bold" transform="translate(251.2 2313.2) rotate(-45) scale(1 1.070)">cKK-E12</text>
<text x="0" y="0" font-size="29.5" text-anchor="end" font-weight="bold" transform="translate(314.8 2320.7) rotate(-45) scale(1 1.070)">ALC-0315</text>
<text x="0" y="0" font-size="29.5" text-anchor="end" font-weight="bold" transform="translate(391.2 2313.2) rotate(-45) scale(1 1.070)">SM-102</text>
<text x="0" y="0" font-size="32" text-anchor="middle" font-weight="bold" transform="translate(45.5 2119.3) rotate(-90)">pg/ml</text>
<line x1="176.6" y1="2238.7" x2="176.6" y2="2251" stroke="#000" stroke-width="3" stroke-linecap="butt"/>
<line x1="164.6" y1="2238.7" x2="188.6" y2="2238.7" stroke="#000" stroke-width="3" stroke-linecap="butt"/>
<line x1="164.6" y1="2251" x2="188.6" y2="2251" stroke="#000" stroke-width="3" stroke-linecap="butt"/>
<line x1="153.1" y1="2244.8" x2="200.1" y2="2244.8" stroke="#000" stroke-width="3" stroke-linecap="butt"/>
<line x1="223.1" y1="2206.8" x2="270.1" y2="2206.8" stroke="#000" stroke-width="3" stroke-linecap="butt"/>
<line x1="291.8" y1="2245" x2="338.8" y2="2245" stroke="#000" stroke-width="3" stroke-linecap="butt"/>
<line x1="362.3" y1="2212.4" x2="409.3" y2="2212.4" stroke="#000" stroke-width="3" stroke-linecap="butt"/>
<circle cx="176" cy="2214.6" r="9.15" fill="#C0C0C0" stroke="#000" stroke-width="1.9"/>
<circle cx="169" cy="2244.2" r="9.15" fill="#C0C0C0" stroke="#000" stroke-width="1.9"/>
<circle cx="162.1" cy="2251.2" r="9.15" fill="#C0C0C0" stroke="#000" stroke-width="1.9"/>
<circle cx="182.9" cy="2249.8" r="9.15" fill="#C0C0C0" stroke="#000" stroke-width="1.9"/>
<circle cx="176" cy="2253.9" r="9.15" fill="#C0C0C0" stroke="#000" stroke-width="1.9"/>
<circle cx="191.2" cy="2258.1" r="9.15" fill="#C0C0C0" stroke="#000" stroke-width="1.9"/>
<circle cx="250.2" cy="2176.4" r="9.15" fill="#45DB9D" stroke="#000" stroke-width="1.9"/>
<circle cx="242.5" cy="2184.7" r="9.15" fill="#45DB9D" stroke="#000" stroke-width="1.9"/>
<circle cx="239.7" cy="2195.8" r="9.15" fill="#45DB9D" stroke="#000" stroke-width="1.9"/>
<circle cx="253.5" cy="2206.3" r="9.15" fill="#45DB9D" stroke="#000" stroke-width="1.9"/>
<circle cx="231.4" cy="2220.7" r="9.15" fill="#45DB9D" stroke="#000" stroke-width="1.9"/>
<circle cx="243.8" cy="2216.5" r="9.15" fill="#45DB9D" stroke="#000" stroke-width="1.9"/>
<circle cx="252.1" cy="2217.9" r="9.15" fill="#45DB9D" stroke="#000" stroke-width="1.9"/>
<circle cx="260.5" cy="2226.8" r="9.15" fill="#45DB9D" stroke="#000" stroke-width="1.9"/>
<circle cx="245" cy="2222" r="9.15" fill="#45DB9D" stroke="#000" stroke-width="1.9"/>
<circle cx="304.8" cy="2237.3" r="9.15" fill="#E056C7" stroke="#000" stroke-width="1.9"/>
<circle cx="313.1" cy="2240" r="9.15" fill="#E056C7" stroke="#000" stroke-width="1.9"/>
<circle cx="321.4" cy="2244.2" r="9.15" fill="#E056C7" stroke="#000" stroke-width="1.9"/>
<circle cx="331.1" cy="2245.6" r="9.15" fill="#E056C7" stroke="#000" stroke-width="1.9"/>
<circle cx="299.3" cy="2245.6" r="9.15" fill="#E056C7" stroke="#000" stroke-width="1.9"/>
<circle cx="313.1" cy="2252.6" r="9.15" fill="#E056C7" stroke="#000" stroke-width="1.9"/>
<circle cx="327" cy="2248.4" r="9.15" fill="#E056C7" stroke="#000" stroke-width="1.9"/>
<circle cx="335.3" cy="2247" r="9.15" fill="#E056C7" stroke="#000" stroke-width="1.9"/>
<circle cx="320" cy="2250" r="9.15" fill="#E056C7" stroke="#000" stroke-width="1.9"/>
<circle cx="386.5" cy="2036.4" r="9.15" fill="#5F84EF" stroke="#000" stroke-width="1.9"/>
<circle cx="385.2" cy="2227.6" r="9.15" fill="#5F84EF" stroke="#000" stroke-width="1.9"/>
<circle cx="376.9" cy="2235.9" r="9.15" fill="#5F84EF" stroke="#000" stroke-width="1.9"/>
<circle cx="392.1" cy="2240" r="9.15" fill="#5F84EF" stroke="#000" stroke-width="1.9"/>
<circle cx="371.3" cy="2247" r="9.15" fill="#5F84EF" stroke="#000" stroke-width="1.9"/>
<circle cx="386.5" cy="2248.4" r="9.15" fill="#5F84EF" stroke="#000" stroke-width="1.9"/>
<circle cx="401.8" cy="2247" r="9.15" fill="#5F84EF" stroke="#000" stroke-width="1.9"/>
<circle cx="394.9" cy="2251.2" r="9.15" fill="#5F84EF" stroke="#000" stroke-width="1.9"/>
<circle cx="380" cy="2250" r="9.15" fill="#5F84EF" stroke="#000" stroke-width="1.9"/>
<path d="M176.8,1974.1 L176.8,1964.4 L390.1,1964.4 L390.1,1975.5" stroke="#000" stroke-width="3" fill="none" stroke-linejoin="miter"/>
<text x="0" y="0" font-size="30.5" text-anchor="middle" font-weight="bold" transform="translate(282.6 1949.1) scale(1 1.070)">ns</text>
<path d="M176.8,2053 L176.8,2037.8 L321.4,2037.8 L321.4,2046.1" stroke="#000" stroke-width="3" fill="none" stroke-linejoin="miter"/>
<text x="0" y="0" font-size="30.5" text-anchor="middle" font-weight="bold" transform="translate(248.5 2022.6) scale(1 1.070)">ns</text>
<path d="M324.2,2019.8 L324.2,2004 L390.1,2004 L390.1,2019.8" stroke="#000" stroke-width="3" fill="none" stroke-linejoin="miter"/>
<text x="0" y="0" font-size="30.5" text-anchor="middle" font-weight="bold" transform="translate(356.9 1989.3) scale(1 1.070)">ns</text>
<path d="M254.4,2104.3 L254.4,2089.1 L386.5,2089.1 L386.5,2100.2" stroke="#000" stroke-width="3" fill="none" stroke-linejoin="miter"/>
<text x="0" y="0" font-size="30.5" text-anchor="middle" font-weight="bold" transform="translate(320.6 2073.8) scale(1 1.070)">ns</text>
<path d="M180.7,2141.7 L180.7,2123.2 L243.3,2123.2 L243.3,2139" stroke="#000" stroke-width="3" fill="none" stroke-linejoin="miter"/>
<text x="208.6" y="2112.3" font-size="25.4" text-anchor="middle" font-weight="bold" font-family="DejaVu Sans" letter-spacing="-3">&#10033;&#10033;&#10033;</text>
<path d="M251.6,2159.7 L251.6,2141.7 L321.4,2141.7 L321.4,2157" stroke="#000" stroke-width="3" fill="none" stroke-linejoin="miter"/>
<text x="283.4" y="2130.4" font-size="25.4" text-anchor="middle" font-weight="bold" font-family="DejaVu Sans" letter-spacing="-3.6">&#10033;&#10033;&#10033;&#10033;</text>
<text x="0" y="0" font-size="33" text-anchor="middle" font-weight="bold" transform="translate(758.9 1904.8) scale(1 1.070)">TNF</text>
<line x1="606.3" y1="1970.4" x2="606.3" y2="2277.6" stroke="#000" stroke-width="3" stroke-linecap="butt"/>
<line x1="604.8" y1="2276.1" x2="912" y2="2276.1" stroke="#000" stroke-width="3" stroke-linecap="butt"/>
<line x1="594.7" y1="1971.9" x2="606.3" y2="1971.9" stroke="#000" stroke-width="3" stroke-linecap="butt"/>
<text x="0" y="0" font-size="29.5" text-anchor="end" font-weight="bold" transform="translate(587.5 1982.9) scale(1 1.070)">20</text>
<line x1="594.7" y1="2059.2" x2="606.3" y2="2059.2" stroke="#000" stroke-width="3" stroke-linecap="butt"/>
<text x="0" y="0" font-size="29.5" text-anchor="end" font-weight="bold" transform="translate(587.5 2070.2) scale(1 1.070)">18</text>
<line x1="594.7" y1="2145.9" x2="606.3" y2="2145.9" stroke="#000" stroke-width="3" stroke-linecap="butt"/>
<text x="0" y="0" font-size="29.5" text-anchor="end" font-weight="bold" transform="translate(587.5 2156.9) scale(1 1.070)">16</text>
<line x1="594.7" y1="2233.2" x2="606.3" y2="2233.2" stroke="#000" stroke-width="3" stroke-linecap="butt"/>
<text x="0" y="0" font-size="29.5" text-anchor="end" font-weight="bold" transform="translate(587.5 2244.2) scale(1 1.070)">14</text>
<line x1="652.3" y1="2276.1" x2="652.3" y2="2290" stroke="#000" stroke-width="3" stroke-linecap="butt"/>
<line x1="722.7" y1="2276.1" x2="722.7" y2="2290" stroke="#000" stroke-width="3" stroke-linecap="butt"/>
<line x1="792.8" y1="2276.1" x2="792.8" y2="2290" stroke="#000" stroke-width="3" stroke-linecap="butt"/>
<line x1="863.5" y1="2276.1" x2="863.5" y2="2290" stroke="#000" stroke-width="3" stroke-linecap="butt"/>
<text x="0" y="0" font-size="29.5" text-anchor="end" font-weight="bold" transform="translate(658.3 2314.6) rotate(-45) scale(1 1.070)">Mock</text>
<text x="0" y="0" font-size="29.5" text-anchor="end" font-weight="bold" transform="translate(728.7 2314.6) rotate(-45) scale(1 1.070)">cKK-E12</text>
<text x="0" y="0" font-size="29.5" text-anchor="end" font-weight="bold" transform="translate(792.3 2322.1) rotate(-45) scale(1 1.070)">ALC-0315</text>
<text x="0" y="0" font-size="29.5" text-anchor="end" font-weight="bold" transform="translate(869.5 2314.6) rotate(-45) scale(1 1.070)">SM-102</text>
<text x="0" y="0" font-size="32" text-anchor="middle" font-weight="bold" transform="translate(541.6 2120.1) rotate(-90)">pg/ml</text>
<line x1="653.3" y1="2181.3" x2="653.3" y2="2204.6" stroke="#000" stroke-width="3" stroke-linecap="butt"/>
<line x1="641.3" y1="2181.3" x2="665.3" y2="2181.3" stroke="#000" stroke-width="3" stroke-linecap="butt"/>
<line x1="641.3" y1="2204.6" x2="665.3" y2="2204.6" stroke="#000" stroke-width="3" stroke-linecap="butt"/>
<line x1="629.8" y1="2192.4" x2="676.8" y2="2192.4" stroke="#000" stroke-width="3" stroke-linecap="butt"/>
<line x1="724.3" y1="2143.7" x2="724.3" y2="2167.5" stroke="#000" stroke-width="3" stroke-linecap="butt"/>
<line x1="712.3" y1="2143.7" x2="736.3" y2="2143.7" stroke="#000" stroke-width="3" stroke-linecap="butt"/>
<line x1="712.3" y1="2167.5" x2="736.3" y2="2167.5" stroke="#000" stroke-width="3" stroke-linecap="butt"/>
<line x1="700.8" y1="2155.6" x2="747.8" y2="2155.6" stroke="#000" stroke-width="3" stroke-linecap="butt"/>
<line x1="794" y1="2188" x2="794" y2="2203.6" stroke="#000" stroke-width="3" stroke-linecap="butt"/>
<line x1="782" y1="2188" x2="806" y2="2188" stroke="#000" stroke-width="3" stroke-linecap="butt"/>
<line x1="782" y1="2203.6" x2="806" y2="2203.6" stroke="#000" stroke-width="3" stroke-linecap="butt"/>
<line x1="770.5" y1="2195.8" x2="817.5" y2="2195.8" stroke="#000" stroke-width="3" stroke-linecap="butt"/>
<line x1="841.4" y1="2222.1" x2="888.4" y2="2222.1" stroke="#000" stroke-width="3" stroke-linecap="butt"/>
<circle cx="668.1" cy="2154.2" r="9.15" fill="#C0C0C0" stroke="#000" stroke-width="1.9"/>
<circle cx="639" cy="2170.3" r="9.15" fill="#C0C0C0" stroke="#000" stroke-width="1.9"/>
<circle cx="668.1" cy="2180.5" r="9.15" fill="#C0C0C0" stroke="#000" stroke-width="1.9"/>
<circle cx="639" cy="2202.7" r="9.15" fill="#C0C0C0" stroke="#000" stroke-width="1.9"/>
<circle cx="668.1" cy="2213.8" r="9.15" fill="#C0C0C0" stroke="#000" stroke-width="1.9"/>
<circle cx="653.4" cy="2233.2" r="9.15" fill="#C0C0C0" stroke="#000" stroke-width="1.9"/>
<circle cx="723" cy="2097.4" r="9.15" fill="#45DB9D" stroke="#000" stroke-width="1.9"/>
<circle cx="715.2" cy="2119.6" r="9.15" fill="#45DB9D" stroke="#000" stroke-width="1.9"/>
<circle cx="730.5" cy="2119.6" r="9.15" fill="#45DB9D" stroke="#000" stroke-width="1.9"/>
<circle cx="709.7" cy="2141.7" r="9.15" fill="#45DB9D" stroke="#000" stroke-width="1.9"/>
<circle cx="737.4" cy="2145.9" r="9.15" fill="#45DB9D" stroke="#000" stroke-width="1.9"/>
<circle cx="723" cy="2150.9" r="9.15" fill="#45DB9D" stroke="#000" stroke-width="1.9"/>
<circle cx="709.1" cy="2168.6" r="9.15" fill="#45DB9D" stroke="#000" stroke-width="1.9"/>
<circle cx="737.9" cy="2183.3" r="9.15" fill="#45DB9D" stroke="#000" stroke-width="1.9"/>
<circle cx="723.5" cy="2199.9" r="9.15" fill="#45DB9D" stroke="#000" stroke-width="1.9"/>
<circle cx="723.5" cy="2222.9" r="9.15" fill="#45DB9D" stroke="#000" stroke-width="1.9"/>
<circle cx="794.2" cy="2118.7" r="9.15" fill="#E056C7" stroke="#000" stroke-width="1.9"/>
<circle cx="788.6" cy="2187.4" r="9.15" fill="#E056C7" stroke="#000" stroke-width="1.9"/>
<circle cx="809.4" cy="2190.2" r="9.15" fill="#E056C7" stroke="#000" stroke-width="1.9"/>
<circle cx="799.7" cy="2193" r="9.15" fill="#E056C7" stroke="#000" stroke-width="1.9"/>
<circle cx="779" cy="2198.5" r="9.15" fill="#E056C7" stroke="#000" stroke-width="1.9"/>
<circle cx="788.6" cy="2204.1" r="9.15" fill="#E056C7" stroke="#000" stroke-width="1.9"/>
<circle cx="808" cy="2206.9" r="9.15" fill="#E056C7" stroke="#000" stroke-width="1.9"/>
<circle cx="779" cy="2213.8" r="9.15" fill="#E056C7" stroke="#000" stroke-width="1.9"/>
<circle cx="799.7" cy="2209.6" r="9.15" fill="#E056C7" stroke="#000" stroke-width="1.9"/>
<circle cx="794.2" cy="2237.3" r="9.15" fill="#E056C7" stroke="#000" stroke-width="1.9"/>
<circle cx="864.8" cy="2040" r="9.15" fill="#5F84EF" stroke="#000" stroke-width="1.9"/>
<circle cx="864.8" cy="2180.5" r="9.15" fill="#5F84EF" stroke="#000" stroke-width="1.9"/>
<circle cx="851" cy="2229" r="9.15" fill="#5F84EF" stroke="#000" stroke-width="1.9"/>
<circle cx="863.5" cy="2231.8" r="9.15" fill="#5F84EF" stroke="#000" stroke-width="1.9"/>
<circle cx="878.7" cy="2231.8" r="9.15" fill="#5F84EF" stroke="#000" stroke-width="1.9"/>
<circle cx="851" cy="2247" r="9.15" fill="#5F84EF" stroke="#000" stroke-width="1.9"/>
<circle cx="869" cy="2242.9" r="9.15" fill="#5F84EF" stroke="#000" stroke-width="1.9"/>
<circle cx="878.7" cy="2253.9" r="9.15" fill="#5F84EF" stroke="#000" stroke-width="1.9"/>
<circle cx="851" cy="2266.4" r="9.15" fill="#5F84EF" stroke="#000" stroke-width="1.9"/>
<circle cx="869" cy="2266.4" r="9.15" fill="#5F84EF" stroke="#000" stroke-width="1.9"/>
<path d="M652,1967.2 L652,1957.5 L869.6,1957.5 L869.6,1963" stroke="#000" stroke-width="3" fill="none" stroke-linejoin="miter"/>
<text x="0" y="0" font-size="30.5" text-anchor="middle" font-weight="bold" transform="translate(760.9 1940.8) scale(1 1.070)">ns</text>
<path d="M651.5,2004.6 L651.5,1994.9 L781.7,1994.9 L781.7,2004.6" stroke="#000" stroke-width="3" fill="none" stroke-linejoin="miter"/>
<text x="0" y="0" font-size="30.5" text-anchor="middle" font-weight="bold" transform="translate(716.6 1976.9) scale(1 1.070)">ns</text>
<path d="M731.3,2028.1 L731.3,2019.8 L864.8,2019.8 L864.8,2024" stroke="#000" stroke-width="3" fill="none" stroke-linejoin="miter"/>
<text x="797.3" y="2008.4" font-size="25.4" text-anchor="middle" font-weight="bold" font-family="DejaVu Sans" letter-spacing="0">&#10033;</text>
<path d="M656.2,2076.6 L656.2,2066.9 L721.3,2066.9 L721.3,2076.6" stroke="#000" stroke-width="3" fill="none" stroke-linejoin="miter"/>
<text x="0" y="0" font-size="30.5" text-anchor="middle" font-weight="bold" transform="translate(688.9 2051.7) scale(1 1.070)">ns</text>
<path d="M731.3,2078 L731.3,2068.8 L786.7,2068.8 L786.7,2078" stroke="#000" stroke-width="3" fill="none" stroke-linejoin="miter"/>
<text x="758.6" y="2058.3" font-size="25.4" text-anchor="middle" font-weight="bold" font-family="DejaVu Sans" letter-spacing="0">&#10033;</text>
<path d="M805.3,2083.5 L805.3,2075.2 L857.1,2075.2 L857.1,2083.5" stroke="#000" stroke-width="3" fill="none" stroke-linejoin="miter"/>
<text x="0" y="0" font-size="30.5" text-anchor="middle" font-weight="bold" transform="translate(831.6 2060) scale(1 1.070)">ns</text>
<text x="0" y="0" font-size="68" text-anchor="start" font-weight="bold" transform="translate(1011.6 111.5) scale(1 1.070)">c</text>
<text x="0" y="0" font-size="34" text-anchor="middle" font-weight="bold" transform="translate(1421.75 29) scale(1 1.070)">day 14</text>
<line x1="1239.25" y1="76.56" x2="1239.25" y2="432.75" stroke="#000" stroke-width="3" stroke-linecap="butt"/>
<line x1="1225.75" y1="431.25" x2="1606.5" y2="431.25" stroke="#000" stroke-width="3" stroke-linecap="butt"/>
<line x1="1225.75" y1="78.06" x2="1239.25" y2="78.06" stroke="#000" stroke-width="3" stroke-linecap="butt"/>
<line x1="1225.75" y1="148.7" x2="1239.25" y2="148.7" stroke="#000" stroke-width="3" stroke-linecap="butt"/>
<line x1="1225.75" y1="219.34" x2="1239.25" y2="219.34" stroke="#000" stroke-width="3" stroke-linecap="butt"/>
<line x1="1225.75" y1="289.98" x2="1239.25" y2="289.98" stroke="#000" stroke-width="3" stroke-linecap="butt"/>
<line x1="1225.75" y1="360.61" x2="1239.25" y2="360.61" stroke="#000" stroke-width="3" stroke-linecap="butt"/>
<text x="0" y="0" font-size="29.5" text-anchor="end" font-weight="bold" transform="translate(1221 88.56) scale(1 1.070)">125</text>
<text x="0" y="0" font-size="29.5" text-anchor="end" font-weight="bold" transform="translate(1221 159.2) scale(1 1.070)">100</text>
<text x="0" y="0" font-size="29.5" text-anchor="end" font-weight="bold" transform="translate(1221 229.84) scale(1 1.070)">75</text>
<text x="0" y="0" font-size="29.5" text-anchor="end" font-weight="bold" transform="translate(1221 300.48) scale(1 1.070)">50</text>
<text x="0" y="0" font-size="29.5" text-anchor="end" font-weight="bold" transform="translate(1221 371.11) scale(1 1.070)">25</text>
<text x="0" y="0" font-size="29.5" text-anchor="end" font-weight="bold" transform="translate(1221 441.75) scale(1 1.070)">0</text>
<line x1="1239.25" y1="431.25" x2="1239.25" y2="444.25" stroke="#000" stroke-width="3" stroke-linecap="butt"/>
<text x="0" y="0" font-size="29.5" text-anchor="middle" font-weight="bold" transform="translate(1238.25 478) scale(1 1.070)">-6</text>
<line x1="1312.4" y1="431.25" x2="1312.4" y2="444.25" stroke="#000" stroke-width="3" stroke-linecap="butt"/>
<text x="0" y="0" font-size="29.5" text-anchor="middle" font-weight="bold" transform="translate(1311.4 478) scale(1 1.070)">-5</text>
<line x1="1385.55" y1="431.25" x2="1385.55" y2="444.25" stroke="#000" stroke-width="3" stroke-linecap="butt"/>
<text x="0" y="0" font-size="29.5" text-anchor="middle" font-weight="bold" transform="translate(1384.55 478) scale(1 1.070)">-4</text>
<line x1="1458.7" y1="431.25" x2="1458.7" y2="444.25" stroke="#000" stroke-width="3" stroke-linecap="butt"/>
<text x="0" y="0" font-size="29.5" text-anchor="middle" font-weight="bold" transform="translate(1457.7 478) scale(1 1.070)">-3</text>
<line x1="1531.85" y1="431.25" x2="1531.85" y2="444.25" stroke="#000" stroke-width="3" stroke-linecap="butt"/>
<text x="0" y="0" font-size="29.5" text-anchor="middle" font-weight="bold" transform="translate(1530.85 478) scale(1 1.070)">-2</text>
<line x1="1605" y1="431.25" x2="1605" y2="444.25" stroke="#000" stroke-width="3" stroke-linecap="butt"/>
<text x="0" y="0" font-size="29.5" text-anchor="middle" font-weight="bold" transform="translate(1604 478) scale(1 1.070)">-1</text>
<text x="0" y="0" font-size="29.5" text-anchor="middle" font-weight="bold" transform="translate(1422 521) scale(1 1.070)">Plasma dilution (log10)</text>
<text x="0" y="0" font-size="32" text-anchor="middle" font-weight="bold" transform="translate(1145.5 249.4) rotate(-90)">Relative infection (%)</text>
<line x1="1241.25" y1="289.98" x2="1600" y2="289.98" stroke="#000" stroke-width="2.6" stroke-linecap="round" stroke-dasharray="0.1,7.9"/>
<path d="M1239.25,127.58 L1241.08,127.73 L1242.91,127.89 L1244.74,128.05 L1246.57,128.22 L1248.39,128.38 L1250.22,128.56 L1252.05,128.74 L1253.88,128.92 L1255.71,129.1 L1257.54,129.29 L1259.37,129.49 L1261.19,129.69 L1263.02,129.89 L1264.85,130.1 L1266.68,130.31 L1268.51,130.53 L1270.34,130.76 L1272.17,130.99 L1274,131.22 L1275.83,131.46 L1277.65,131.71 L1279.48,131.96 L1281.31,132.22 L1283.14,132.48 L1284.97,132.75 L1286.8,133.03 L1288.63,133.31 L1290.45,133.6 L1292.28,133.89 L1294.11,134.19 L1295.94,134.5 L1297.77,134.82 L1299.6,135.14 L1301.43,135.47 L1303.26,135.81 L1305.09,136.16 L1306.91,136.51 L1308.74,136.88 L1310.57,137.25 L1312.4,137.63 L1314.23,138.01 L1316.06,138.41 L1317.89,138.82 L1319.71,139.23 L1321.54,139.66 L1323.37,140.09 L1325.2,140.53 L1327.03,140.99 L1328.86,141.45 L1330.69,141.92 L1332.52,142.41 L1334.35,142.9 L1336.17,143.41 L1338,143.93 L1339.83,144.46 L1341.66,145 L1343.49,145.55 L1345.32,146.11 L1347.15,146.69 L1348.97,147.28 L1350.8,147.88 L1352.63,148.49 L1354.46,149.12 L1356.29,149.76 L1358.12,150.42 L1359.95,151.09 L1361.78,151.77 L1363.61,152.47 L1365.43,153.18 L1367.26,153.91 L1369.09,154.65 L1370.92,155.41 L1372.75,156.18 L1374.58,156.97 L1376.41,157.78 L1378.24,158.6 L1380.06,159.44 L1381.89,160.3 L1383.72,161.17 L1385.55,162.07 L1387.38,162.97 L1389.21,163.9 L1391.04,164.85 L1392.87,165.81 L1394.69,166.8 L1396.52,167.8 L1398.35,168.82 L1400.18,169.86 L1402.01,170.93 L1403.84,172.01 L1405.67,173.11 L1407.49,174.23 L1409.32,175.38 L1411.15,176.54 L1412.98,177.73 L1414.81,178.94 L1416.64,180.17 L1418.47,181.43 L1420.3,182.7 L1422.12,184 L1423.95,185.32 L1425.78,186.66 L1427.61,188.03 L1429.44,189.42 L1431.27,190.84 L1433.1,192.28 L1434.93,193.74 L1436.76,195.23 L1438.58,196.74 L1440.41,198.27 L1442.24,199.84 L1444.07,201.42 L1445.9,203.03 L1447.73,204.67 L1449.56,206.33 L1451.38,208.01 L1453.21,209.72 L1455.04,211.46 L1456.87,213.22 L1458.7,215.01 L1460.53,216.82 L1462.36,218.66 L1464.19,220.52 L1466.02,222.41 L1467.84,224.33 L1469.67,226.27 L1471.5,228.23 L1473.33,230.22 L1475.16,232.24 L1476.99,234.28 L1478.82,236.34 L1480.64,238.43 L1482.47,240.55 L1484.3,242.69 L1486.13,244.85 L1487.96,247.03 L1489.79,249.24 L1491.62,251.48 L1493.45,253.73 L1495.28,256.01 L1497.1,258.31 L1498.93,260.63 L1500.76,262.98 L1502.59,265.34 L1504.42,267.73 L1506.25,270.14 L1508.08,272.56 L1509.9,275.01 L1511.73,277.47 L1513.56,279.95 L1515.39,282.46 L1517.22,284.97 L1519.05,287.51 L1520.88,290.06 L1522.71,292.62 L1524.54,295.21 L1526.36,297.8 L1528.19,300.41 L1530.02,303.03 L1531.85,305.67 L1533.68,308.31 L1535.51,310.97 L1537.34,313.64 L1539.16,316.31 L1540.99,319 L1542.82,321.69 L1544.65,324.39 L1546.48,327.1 L1548.31,329.81 L1550.14,332.53 L1551.97,335.25 L1553.8,337.97 L1555.62,340.7 L1557.45,343.43 L1559.28,346.16 L1561.11,348.89 L1562.94,351.62 L1564.77,354.35 L1566.6,357.07 L1568.42,359.79" stroke="#E056C7" stroke-width="4.2" fill="none" stroke-linejoin="round"/>
<path d="M1239.25,132.93 L1241.08,132.96 L1242.91,132.99 L1244.74,133.02 L1246.57,133.05 L1248.39,133.09 L1250.22,133.13 L1252.05,133.17 L1253.88,133.21 L1255.71,133.25 L1257.54,133.29 L1259.37,133.34 L1261.19,133.39 L1263.02,133.44 L1264.85,133.5 L1266.68,133.55 L1268.51,133.61 L1270.34,133.67 L1272.17,133.74 L1274,133.81 L1275.83,133.88 L1277.65,133.95 L1279.48,134.03 L1281.31,134.11 L1283.14,134.2 L1284.97,134.28 L1286.8,134.38 L1288.63,134.48 L1290.45,134.58 L1292.28,134.69 L1294.11,134.8 L1295.94,134.92 L1297.77,135.04 L1299.6,135.17 L1301.43,135.3 L1303.26,135.44 L1305.09,135.59 L1306.91,135.74 L1308.74,135.9 L1310.57,136.07 L1312.4,136.25 L1314.23,136.43 L1316.06,136.63 L1317.89,136.83 L1319.71,137.04 L1321.54,137.26 L1323.37,137.49 L1325.2,137.73 L1327.03,137.98 L1328.86,138.25 L1330.69,138.52 L1332.52,138.81 L1334.35,139.11 L1336.17,139.43 L1338,139.76 L1339.83,140.1 L1341.66,140.46 L1343.49,140.84 L1345.32,141.23 L1347.15,141.64 L1348.97,142.07 L1350.8,142.51 L1352.63,142.98 L1354.46,143.47 L1356.29,143.97 L1358.12,144.5 L1359.95,145.06 L1361.78,145.63 L1363.61,146.23 L1365.43,146.86 L1367.26,147.52 L1369.09,148.2 L1370.92,148.91 L1372.75,149.65 L1374.58,150.42 L1376.41,151.22 L1378.24,152.06 L1380.06,152.93 L1381.89,153.83 L1383.72,154.77 L1385.55,155.75 L1387.38,156.77 L1389.21,157.83 L1391.04,158.93 L1392.87,160.07 L1394.69,161.25 L1396.52,162.48 L1398.35,163.76 L1400.18,165.08 L1402.01,166.45 L1403.84,167.87 L1405.67,169.34 L1407.49,170.86 L1409.32,172.44 L1411.15,174.07 L1412.98,175.75 L1414.81,177.49 L1416.64,179.29 L1418.47,181.14 L1420.3,183.05 L1422.12,185.02 L1423.95,187.05 L1425.78,189.14 L1427.61,191.28 L1429.44,193.49 L1431.27,195.76 L1433.1,198.09 L1434.93,200.48 L1436.76,202.92 L1438.58,205.43 L1440.41,207.99 L1442.24,210.62 L1444.07,213.3 L1445.9,216.03 L1447.73,218.82 L1449.56,221.66 L1451.38,224.56 L1453.21,227.5 L1455.04,230.49 L1456.87,233.53 L1458.7,236.6 L1460.53,239.73 L1462.36,242.88 L1464.19,246.08 L1466.02,249.3 L1467.84,252.56 L1469.67,255.84 L1471.5,259.15 L1473.33,262.47 L1475.16,265.82 L1476.99,269.17 L1478.82,272.54 L1480.64,275.91 L1482.47,279.28 L1484.3,282.65 L1486.13,286.02 L1487.96,289.38 L1489.79,292.72 L1491.62,296.06 L1493.45,299.37 L1495.28,302.66 L1497.1,305.92 L1498.93,309.16 L1500.76,312.36 L1502.59,315.53 L1504.42,318.66 L1506.25,321.75 L1508.08,324.8 L1509.9,327.8 L1511.73,330.76 L1513.56,333.67 L1515.39,336.52 L1517.22,339.33 L1519.05,342.08 L1520.88,344.77 L1522.71,347.41 L1524.54,349.99 L1526.36,352.52 L1528.19,354.98 L1530.02,357.38 L1531.85,359.73 L1533.68,362.01 L1535.51,364.24 L1537.34,366.4 L1539.16,368.51 L1540.99,370.55 L1542.82,372.54 L1544.65,374.46 L1546.48,376.33 L1548.31,378.15 L1550.14,379.9 L1551.97,381.6 L1553.8,383.24 L1555.62,384.83 L1557.45,386.37 L1559.28,387.86 L1561.11,389.29 L1562.94,390.68 L1564.77,392.01 L1566.6,393.3 L1568.42,394.54" stroke="#5F84EF" stroke-width="4.2" fill="none" stroke-linejoin="round"/>
<path d="M1239.25,134.54 L1241.08,134.58 L1242.91,134.61 L1244.74,134.65 L1246.57,134.69 L1248.39,134.73 L1250.22,134.78 L1252.05,134.82 L1253.88,134.87 L1255.71,134.92 L1257.54,134.97 L1259.37,135.03 L1261.19,135.08 L1263.02,135.14 L1264.85,135.21 L1266.68,135.27 L1268.51,135.34 L1270.34,135.41 L1272.17,135.48 L1274,135.56 L1275.83,135.64 L1277.65,135.72 L1279.48,135.81 L1281.31,135.9 L1283.14,136 L1284.97,136.1 L1286.8,136.2 L1288.63,136.31 L1290.45,136.43 L1292.28,136.55 L1294.11,136.67 L1295.94,136.8 L1297.77,136.93 L1299.6,137.08 L1301.43,137.22 L1303.26,137.38 L1305.09,137.54 L1306.91,137.7 L1308.74,137.88 L1310.57,138.06 L1312.4,138.25 L1314.23,138.45 L1316.06,138.66 L1317.89,138.87 L1319.71,139.1 L1321.54,139.33 L1323.37,139.58 L1325.2,139.84 L1327.03,140.1 L1328.86,140.38 L1330.69,140.67 L1332.52,140.97 L1334.35,141.29 L1336.17,141.62 L1338,141.96 L1339.83,142.32 L1341.66,142.69 L1343.49,143.08 L1345.32,143.48 L1347.15,143.9 L1348.97,144.34 L1350.8,144.8 L1352.63,145.27 L1354.46,145.77 L1356.29,146.28 L1358.12,146.82 L1359.95,147.37 L1361.78,147.96 L1363.61,148.56 L1365.43,149.19 L1367.26,149.84 L1369.09,150.52 L1370.92,151.22 L1372.75,151.96 L1374.58,152.72 L1376.41,153.51 L1378.24,154.33 L1380.06,155.18 L1381.89,156.07 L1383.72,156.98 L1385.55,157.94 L1387.38,158.92 L1389.21,159.95 L1391.04,161.01 L1392.87,162.11 L1394.69,163.24 L1396.52,164.42 L1398.35,165.64 L1400.18,166.9 L1402.01,168.2 L1403.84,169.55 L1405.67,170.94 L1407.49,172.38 L1409.32,173.86 L1411.15,175.39 L1412.98,176.97 L1414.81,178.6 L1416.64,180.27 L1418.47,182 L1420.3,183.77 L1422.12,185.6 L1423.95,187.47 L1425.78,189.4 L1427.61,191.38 L1429.44,193.41 L1431.27,195.49 L1433.1,197.63 L1434.93,199.81 L1436.76,202.04 L1438.58,204.33 L1440.41,206.66 L1442.24,209.05 L1444.07,211.48 L1445.9,213.96 L1447.73,216.49 L1449.56,219.06 L1451.38,221.67 L1453.21,224.33 L1455.04,227.03 L1456.87,229.76 L1458.7,232.54 L1460.53,235.35 L1462.36,238.19 L1464.19,241.06 L1466.02,243.96 L1467.84,246.89 L1469.67,249.84 L1471.5,252.81 L1473.33,255.81 L1475.16,258.81 L1476.99,261.83 L1478.82,264.86 L1480.64,267.9 L1482.47,270.94 L1484.3,273.98 L1486.13,277.02 L1487.96,280.06 L1489.79,283.08 L1491.62,286.1 L1493.45,289.11 L1495.28,292.1 L1497.1,295.07 L1498.93,298.01 L1500.76,300.94 L1502.59,303.84 L1504.42,306.71 L1506.25,309.54 L1508.08,312.35 L1509.9,315.12 L1511.73,317.85 L1513.56,320.54 L1515.39,323.2 L1517.22,325.81 L1519.05,328.37 L1520.88,330.89 L1522.71,333.37 L1524.54,335.79 L1526.36,338.17 L1528.19,340.5 L1530.02,342.78 L1531.85,345.01 L1533.68,347.19 L1535.51,349.31 L1537.34,351.39 L1539.16,353.41 L1540.99,355.38 L1542.82,357.31 L1544.65,359.18 L1546.48,361 L1548.31,362.76 L1550.14,364.48 L1551.97,366.15 L1553.8,367.77 L1555.62,369.35 L1557.45,370.87 L1559.28,372.35 L1561.11,373.78 L1562.94,375.17 L1564.77,376.51 L1566.6,377.81 L1568.42,379.06" stroke="#45DB9D" stroke-width="4.2" fill="none" stroke-linejoin="round"/>
<circle cx="1239.25" cy="148.75" r="9.1" fill="#E056C7" stroke="#000" stroke-width="1.9"/>
<circle cx="1239.25" cy="148.75" r="9.1" fill="#5F84EF" stroke="#000" stroke-width="1.9"/>
<circle cx="1239.25" cy="148.75" r="9.1" fill="#45DB9D" stroke="#000" stroke-width="1.9"/>
<circle cx="1312.4" cy="90" r="9.1" fill="#E056C7" stroke="#000" stroke-width="1.9"/>
<circle cx="1312.4" cy="106.6" r="9.1" fill="#5F84EF" stroke="#000" stroke-width="1.9"/>
<circle cx="1312.4" cy="129.5" r="9.1" fill="#45DB9D" stroke="#000" stroke-width="1.9"/>
<circle cx="1348.97" cy="154.3" r="9.1" fill="#5F84EF" stroke="#000" stroke-width="1.9"/>
<circle cx="1348.97" cy="169.8" r="9.1" fill="#E056C7" stroke="#000" stroke-width="1.9"/>
<circle cx="1348.97" cy="145.4" r="9.1" fill="#45DB9D" stroke="#000" stroke-width="1.9"/>
<circle cx="1385.55" cy="166" r="9.1" fill="#E056C7" stroke="#000" stroke-width="1.9"/>
<circle cx="1385.55" cy="171.3" r="9.1" fill="#5F84EF" stroke="#000" stroke-width="1.9"/>
<circle cx="1385.55" cy="155.7" r="9.1" fill="#45DB9D" stroke="#000" stroke-width="1.9"/>
<circle cx="1422.12" cy="174.5" r="9.1" fill="#5F84EF" stroke="#000" stroke-width="1.9"/>
<circle cx="1422.12" cy="187" r="9.1" fill="#E056C7" stroke="#000" stroke-width="1.9"/>
<circle cx="1422.12" cy="200" r="9.1" fill="#45DB9D" stroke="#000" stroke-width="1.9"/>
<circle cx="1458.7" cy="213.5" r="9.1" fill="#E056C7" stroke="#000" stroke-width="1.9"/>
<circle cx="1458.7" cy="236.25" r="9.1" fill="#5F84EF" stroke="#000" stroke-width="1.9"/>
<circle cx="1458.7" cy="213.25" r="9.1" fill="#45DB9D" stroke="#000" stroke-width="1.9"/>
<circle cx="1495.28" cy="250" r="9.1" fill="#E056C7" stroke="#000" stroke-width="1.9"/>
<circle cx="1495.28" cy="297.5" r="9.1" fill="#5F84EF" stroke="#000" stroke-width="1.9"/>
<circle cx="1495.28" cy="290" r="9.1" fill="#45DB9D" stroke="#000" stroke-width="1.9"/>
<circle cx="1531.85" cy="305" r="9.1" fill="#E056C7" stroke="#000" stroke-width="1.9"/>
<circle cx="1531.85" cy="364.5" r="9.1" fill="#5F84EF" stroke="#000" stroke-width="1.9"/>
<circle cx="1531.85" cy="339.5" r="9.1" fill="#45DB9D" stroke="#000" stroke-width="1.9"/>
<circle cx="1568.42" cy="365.5" r="9.1" fill="#E056C7" stroke="#000" stroke-width="1.9"/>
<circle cx="1568.42" cy="398" r="9.1" fill="#5F84EF" stroke="#000" stroke-width="1.9"/>
<circle cx="1568.42" cy="381.25" r="9.1" fill="#45DB9D" stroke="#000" stroke-width="1.9"/>
<line x1="1556.5" y1="103" x2="1594" y2="103" stroke="#45DB9D" stroke-width="4.5" stroke-linecap="round"/>
<circle cx="1575.25" cy="103" r="8.8" fill="#45DB9D" stroke="#000" stroke-width="1.8"/>
<text x="0" y="0" font-size="29.5" text-anchor="start" font-weight="bold" transform="translate(1610.5 114.5) scale(1 1.070)">cKK-E12</text>
<line x1="1556.5" y1="149.25" x2="1594" y2="149.25" stroke="#E056C7" stroke-width="4.5" stroke-linecap="round"/>
<circle cx="1575.25" cy="149.25" r="8.8" fill="#E056C7" stroke="#000" stroke-width="1.8"/>
<text x="0" y="0" font-size="29.5" text-anchor="start" font-weight="bold" transform="translate(1610.5 160) scale(1 1.070)">ALC-0315</text>
<line x1="1556.5" y1="192.5" x2="1594" y2="192.5" stroke="#5F84EF" stroke-width="4.5" stroke-linecap="round"/>
<circle cx="1575.25" cy="192.5" r="8.8" fill="#5F84EF" stroke="#000" stroke-width="1.8"/>
<text x="0" y="0" font-size="29.5" text-anchor="start" font-weight="bold" transform="translate(1610.5 203.75) scale(1 1.070)">SM-102</text>
<text x="0" y="0" font-size="68" text-anchor="start" font-weight="bold" transform="translate(1007 608.5) scale(1 1.070)">d</text>
<text x="0" y="0" font-size="34" text-anchor="middle" font-weight="bold" transform="translate(1418.75 609.5) scale(1 1.070)">day 35</text>
<line x1="1235.5" y1="642.25" x2="1235.5" y2="998.5" stroke="#000" stroke-width="3" stroke-linecap="butt"/>
<line x1="1222" y1="997" x2="1602.75" y2="997" stroke="#000" stroke-width="3" stroke-linecap="butt"/>
<line x1="1222" y1="643.75" x2="1235.5" y2="643.75" stroke="#000" stroke-width="3" stroke-linecap="butt"/>
<line x1="1222" y1="714.4" x2="1235.5" y2="714.4" stroke="#000" stroke-width="3" stroke-linecap="butt"/>
<line x1="1222" y1="785.05" x2="1235.5" y2="785.05" stroke="#000" stroke-width="3" stroke-linecap="butt"/>
<line x1="1222" y1="855.7" x2="1235.5" y2="855.7" stroke="#000" stroke-width="3" stroke-linecap="butt"/>
<line x1="1222" y1="926.35" x2="1235.5" y2="926.35" stroke="#000" stroke-width="3" stroke-linecap="butt"/>
<text x="0" y="0" font-size="29.5" text-anchor="end" font-weight="bold" transform="translate(1217.5 654.25) scale(1 1.070)">125</text>
<text x="0" y="0" font-size="29.5" text-anchor="end" font-weight="bold" transform="translate(1217.5 724.9) scale(1 1.070)">100</text>
<text x="0" y="0" font-size="29.5" text-anchor="end" font-weight="bold" transform="translate(1217.5 795.55) scale(1 1.070)">75</text>
<text x="0" y="0" font-size="29.5" text-anchor="end" font-weight="bold" transform="translate(1217.5 866.2) scale(1 1.070)">50</text>
<text x="0" y="0" font-size="29.5" text-anchor="end" font-weight="bold" transform="translate(1217.5 936.85) scale(1 1.070)">25</text>
<text x="0" y="0" font-size="29.5" text-anchor="end" font-weight="bold" transform="translate(1217.5 1007.5) scale(1 1.070)">0</text>
<line x1="1235.5" y1="997" x2="1235.5" y2="1010" stroke="#000" stroke-width="3" stroke-linecap="butt"/>
<text x="0" y="0" font-size="29.5" text-anchor="middle" font-weight="bold" transform="translate(1234.5 1043.5) scale(1 1.070)">-6</text>
<line x1="1308.65" y1="997" x2="1308.65" y2="1010" stroke="#000" stroke-width="3" stroke-linecap="butt"/>
<text x="0" y="0" font-size="29.5" text-anchor="middle" font-weight="bold" transform="translate(1307.65 1043.5) scale(1 1.070)">-5</text>
<line x1="1381.8" y1="997" x2="1381.8" y2="1010" stroke="#000" stroke-width="3" stroke-linecap="butt"/>
<text x="0" y="0" font-size="29.5" text-anchor="middle" font-weight="bold" transform="translate(1380.8 1043.5) scale(1 1.070)">-4</text>
<line x1="1454.95" y1="997" x2="1454.95" y2="1010" stroke="#000" stroke-width="3" stroke-linecap="butt"/>
<text x="0" y="0" font-size="29.5" text-anchor="middle" font-weight="bold" transform="translate(1453.95 1043.5) scale(1 1.070)">-3</text>
<line x1="1528.1" y1="997" x2="1528.1" y2="1010" stroke="#000" stroke-width="3" stroke-linecap="butt"/>
<text x="0" y="0" font-size="29.5" text-anchor="middle" font-weight="bold" transform="translate(1527.1 1043.5) scale(1 1.070)">-2</text>
<line x1="1601.25" y1="997" x2="1601.25" y2="1010" stroke="#000" stroke-width="3" stroke-linecap="butt"/>
<text x="0" y="0" font-size="29.5" text-anchor="middle" font-weight="bold" transform="translate(1600.25 1043.5) scale(1 1.070)">-1</text>
<text x="0" y="0" font-size="29.5" text-anchor="middle" font-weight="bold" transform="translate(1417 1086.5) scale(1 1.070)">Plasma dilution (log10)</text>
<text x="0" y="0" font-size="32" text-anchor="middle" font-weight="bold" transform="translate(1141 810) rotate(-90)">Relative infection (%)</text>
<line x1="1237.5" y1="855.7" x2="1596" y2="855.7" stroke="#000" stroke-width="2.6" stroke-linecap="round" stroke-dasharray="0.1,7.9"/>
<path d="M1235.5,690.72 L1237.33,690.77 L1239.16,690.82 L1240.99,690.87 L1242.82,690.93 L1244.64,691 L1246.47,691.06 L1248.3,691.14 L1250.13,691.22 L1251.96,691.3 L1253.79,691.39 L1255.62,691.49 L1257.44,691.59 L1259.27,691.71 L1261.1,691.83 L1262.93,691.96 L1264.76,692.1 L1266.59,692.25 L1268.42,692.41 L1270.25,692.58 L1272.08,692.77 L1273.9,692.97 L1275.73,693.18 L1277.56,693.41 L1279.39,693.66 L1281.22,693.92 L1283.05,694.2 L1284.88,694.51 L1286.7,694.84 L1288.53,695.19 L1290.36,695.56 L1292.19,695.97 L1294.02,696.4 L1295.85,696.86 L1297.68,697.36 L1299.51,697.89 L1301.34,698.46 L1303.16,699.07 L1304.99,699.73 L1306.82,700.43 L1308.65,701.18 L1310.48,701.98 L1312.31,702.83 L1314.14,703.75 L1315.96,704.73 L1317.79,705.77 L1319.62,706.88 L1321.45,708.07 L1323.28,709.33 L1325.11,710.68 L1326.94,712.12 L1328.77,713.64 L1330.6,715.27 L1332.42,716.99 L1334.25,718.82 L1336.08,720.76 L1337.91,722.82 L1339.74,724.99 L1341.57,727.29 L1343.4,729.72 L1345.22,732.28 L1347.05,734.99 L1348.88,737.83 L1350.71,740.81 L1352.54,743.94 L1354.37,747.23 L1356.2,750.66 L1358.03,754.25 L1359.86,757.98 L1361.68,761.87 L1363.51,765.92 L1365.34,770.11 L1367.17,774.44 L1369,778.92 L1370.83,783.53 L1372.66,788.27 L1374.49,793.13 L1376.31,798.1 L1378.14,803.18 L1379.97,808.35 L1381.8,813.61 L1383.63,818.93 L1385.46,824.31 L1387.29,829.74 L1389.12,835.19 L1390.94,840.66 L1392.77,846.13 L1394.6,851.59 L1396.43,857.02 L1398.26,862.4 L1400.09,867.74 L1401.92,873 L1403.74,878.19 L1405.57,883.28 L1407.4,888.28 L1409.23,893.16 L1411.06,897.92 L1412.89,902.55 L1414.72,907.05 L1416.55,911.4 L1418.38,915.62 L1420.2,919.68 L1422.03,923.6 L1423.86,927.36 L1425.69,930.97 L1427.52,934.43 L1429.35,937.73 L1431.18,940.89 L1433.01,943.9 L1434.83,946.76 L1436.66,949.49 L1438.49,952.07 L1440.32,954.52 L1442.15,956.84 L1443.98,959.04 L1445.81,961.11 L1447.63,963.07 L1449.46,964.92 L1451.29,966.66 L1453.12,968.3 L1454.95,969.84 L1456.78,971.29 L1458.61,972.65 L1460.44,973.93 L1462.27,975.13 L1464.09,976.25 L1465.92,977.31 L1467.75,978.29 L1469.58,979.22 L1471.41,980.08 L1473.24,980.89 L1475.07,981.65 L1476.89,982.36 L1478.72,983.02 L1480.55,983.63 L1482.38,984.21 L1484.21,984.75 L1486.04,985.25 L1487.87,985.72 L1489.7,986.16 L1491.53,986.57 L1493.35,986.95 L1495.18,987.3 L1497.01,987.63 L1498.84,987.94 L1500.67,988.23 L1502.5,988.5 L1504.33,988.75 L1506.15,988.98 L1507.98,989.2 L1509.81,989.4 L1511.64,989.58 L1513.47,989.76 L1515.3,989.92 L1517.13,990.07 L1518.96,990.21 L1520.79,990.35 L1522.61,990.47 L1524.44,990.58 L1526.27,990.69 L1528.1,990.79 L1529.93,990.88 L1531.76,990.96 L1533.59,991.04 L1535.41,991.12 L1537.24,991.19 L1539.07,991.25 L1540.9,991.31 L1542.73,991.37 L1544.56,991.42 L1546.39,991.47 L1548.22,991.51 L1550.05,991.55 L1551.87,991.59 L1553.7,991.63 L1555.53,991.66 L1557.36,991.69 L1559.19,991.72 L1561.02,991.75 L1562.85,991.77 L1564.67,991.79" stroke="#E056C7" stroke-width="4.2" fill="none" stroke-linejoin="round"/>
<path d="M1235.5,709.21 L1237.33,709.29 L1239.16,709.38 L1240.99,709.48 L1242.82,709.58 L1244.64,709.7 L1246.47,709.82 L1248.3,709.95 L1250.13,710.09 L1251.96,710.24 L1253.79,710.41 L1255.62,710.59 L1257.44,710.78 L1259.27,710.98 L1261.1,711.21 L1262.93,711.45 L1264.76,711.71 L1266.59,711.98 L1268.42,712.28 L1270.25,712.61 L1272.08,712.96 L1273.9,713.33 L1275.73,713.73 L1277.56,714.17 L1279.39,714.64 L1281.22,715.14 L1283.05,715.68 L1284.88,716.26 L1286.7,716.89 L1288.53,717.56 L1290.36,718.28 L1292.19,719.05 L1294.02,719.88 L1295.85,720.78 L1297.68,721.73 L1299.51,722.76 L1301.34,723.85 L1303.16,725.03 L1304.99,726.29 L1306.82,727.63 L1308.65,729.07 L1310.48,730.6 L1312.31,732.23 L1314.14,733.98 L1315.96,735.83 L1317.79,737.81 L1319.62,739.91 L1321.45,742.13 L1323.28,744.5 L1325.11,747 L1326.94,749.64 L1328.77,752.44 L1330.6,755.38 L1332.42,758.48 L1334.25,761.74 L1336.08,765.17 L1337.91,768.75 L1339.74,772.5 L1341.57,776.41 L1343.4,780.48 L1345.22,784.71 L1347.05,789.1 L1348.88,793.64 L1350.71,798.32 L1352.54,803.14 L1354.37,808.09 L1356.2,813.16 L1358.03,818.34 L1359.86,823.61 L1361.68,828.97 L1363.51,834.4 L1365.34,839.88 L1367.17,845.4 L1369,850.94 L1370.83,856.49 L1372.66,862.03 L1374.49,867.55 L1376.31,873.03 L1378.14,878.44 L1379.97,883.79 L1381.8,889.06 L1383.63,894.22 L1385.46,899.28 L1387.29,904.21 L1389.12,909.02 L1390.94,913.68 L1392.77,918.2 L1394.6,922.57 L1396.43,926.78 L1398.26,930.84 L1400.09,934.73 L1401.92,938.46 L1403.74,942.02 L1405.57,945.42 L1407.4,948.67 L1409.23,951.75 L1411.06,954.68 L1412.89,957.45 L1414.72,960.08 L1416.55,962.56 L1418.38,964.91 L1420.2,967.12 L1422.03,969.2 L1423.86,971.16 L1425.69,973.01 L1427.52,974.74 L1429.35,976.36 L1431.18,977.88 L1433.01,979.3 L1434.83,980.64 L1436.66,981.88 L1438.49,983.05 L1440.32,984.14 L1442.15,985.15 L1443.98,986.1 L1445.81,986.99 L1447.63,987.81 L1449.46,988.58 L1451.29,989.29 L1453.12,989.96 L1454.95,990.58 L1456.78,991.16 L1458.61,991.69 L1460.44,992.19 L1462.27,992.65 L1464.09,993.08 L1465.92,993.48 L1467.75,993.86 L1469.58,994.2 L1471.41,994.52 L1473.24,994.82 L1475.07,995.09 L1476.89,995.35 L1478.72,995.59 L1480.55,995.81 L1482.38,996.01 L1484.21,996.2 L1486.04,996.38 L1487.87,996.54 L1489.7,996.7 L1491.53,996.84 L1493.35,996.97 L1495.18,997.09 L1497.01,997.2 L1498.84,997.3 L1500.67,997.4 L1502.5,997.49 L1504.33,997.57 L1506.15,997.65 L1507.98,997.72 L1509.81,997.78 L1511.64,997.85 L1513.47,997.9 L1515.3,997.95 L1517.13,998 L1518.96,998.05 L1520.79,998.09 L1522.61,998.13 L1524.44,998.16 L1526.27,998.2 L1528.1,998.23 L1529.93,998.26 L1531.76,998.28 L1533.59,998.31 L1535.41,998.33 L1537.24,998.35 L1539.07,998.37 L1540.9,998.39 L1542.73,998.41 L1544.56,998.42 L1546.39,998.44 L1548.22,998.45 L1550.05,998.46 L1551.87,998.47 L1553.7,998.48 L1555.53,998.49 L1557.36,998.5 L1559.19,998.51 L1561.02,998.52 L1562.85,998.53 L1564.67,998.53" stroke="#5F84EF" stroke-width="4.2" fill="none" stroke-linejoin="round"/>
<path d="M1235.5,697.09 L1237.33,697.18 L1239.16,697.27 L1240.99,697.37 L1242.82,697.47 L1244.64,697.59 L1246.47,697.71 L1248.3,697.84 L1250.13,697.98 L1251.96,698.14 L1253.79,698.3 L1255.62,698.48 L1257.44,698.67 L1259.27,698.87 L1261.1,699.09 L1262.93,699.33 L1264.76,699.58 L1266.59,699.85 L1268.42,700.15 L1270.25,700.46 L1272.08,700.8 L1273.9,701.16 L1275.73,701.55 L1277.56,701.97 L1279.39,702.42 L1281.22,702.91 L1283.05,703.42 L1284.88,703.98 L1286.7,704.58 L1288.53,705.22 L1290.36,705.9 L1292.19,706.63 L1294.02,707.42 L1295.85,708.26 L1297.68,709.16 L1299.51,710.13 L1301.34,711.16 L1303.16,712.26 L1304.99,713.43 L1306.82,714.69 L1308.65,716.03 L1310.48,717.46 L1312.31,718.98 L1314.14,720.6 L1315.96,722.32 L1317.79,724.15 L1319.62,726.1 L1321.45,728.16 L1323.28,730.35 L1325.11,732.66 L1326.94,735.11 L1328.77,737.69 L1330.6,740.42 L1332.42,743.29 L1334.25,746.31 L1336.08,749.48 L1337.91,752.81 L1339.74,756.3 L1341.57,759.94 L1343.4,763.74 L1345.22,767.69 L1347.05,771.8 L1348.88,776.07 L1350.71,780.48 L1352.54,785.04 L1354.37,789.74 L1356.2,794.57 L1358.03,799.53 L1359.86,804.6 L1361.68,809.77 L1363.51,815.04 L1365.34,820.39 L1367.17,825.81 L1369,831.28 L1370.83,836.79 L1372.66,842.32 L1374.49,847.87 L1376.31,853.41 L1378.14,858.94 L1379.97,864.42 L1381.8,869.86 L1383.63,875.24 L1385.46,880.53 L1387.29,885.74 L1389.12,890.85 L1390.94,895.85 L1392.77,900.73 L1394.6,905.47 L1396.43,910.08 L1398.26,914.55 L1400.09,918.87 L1401.92,923.04 L1403.74,927.05 L1405.57,930.9 L1407.4,934.6 L1409.23,938.14 L1411.06,941.53 L1412.89,944.76 L1414.72,947.83 L1416.55,950.76 L1418.38,953.53 L1420.2,956.17 L1422.03,958.67 L1423.86,961.03 L1425.69,963.26 L1427.52,965.37 L1429.35,967.35 L1431.18,969.22 L1433.01,970.98 L1434.83,972.64 L1436.66,974.2 L1438.49,975.66 L1440.32,977.03 L1442.15,978.31 L1443.98,979.52 L1445.81,980.65 L1447.63,981.7 L1449.46,982.69 L1451.29,983.61 L1453.12,984.47 L1454.95,985.28 L1456.78,986.03 L1458.61,986.73 L1460.44,987.39 L1462.27,988 L1464.09,988.57 L1465.92,989.1 L1467.75,989.6 L1469.58,990.06 L1471.41,990.49 L1473.24,990.89 L1475.07,991.26 L1476.89,991.61 L1478.72,991.93 L1480.55,992.23 L1482.38,992.51 L1484.21,992.77 L1486.04,993.02 L1487.87,993.24 L1489.7,993.45 L1491.53,993.65 L1493.35,993.83 L1495.18,994 L1497.01,994.15 L1498.84,994.3 L1500.67,994.43 L1502.5,994.56 L1504.33,994.68 L1506.15,994.79 L1507.98,994.89 L1509.81,994.98 L1511.64,995.07 L1513.47,995.15 L1515.3,995.23 L1517.13,995.3 L1518.96,995.36 L1520.79,995.42 L1522.61,995.48 L1524.44,995.53 L1526.27,995.58 L1528.1,995.62 L1529.93,995.66 L1531.76,995.7 L1533.59,995.74 L1535.41,995.77 L1537.24,995.8 L1539.07,995.83 L1540.9,995.86 L1542.73,995.89 L1544.56,995.91 L1546.39,995.93 L1548.22,995.95 L1550.05,995.97 L1551.87,995.99 L1553.7,996 L1555.53,996.02 L1557.36,996.03 L1559.19,996.04 L1561.02,996.06 L1562.85,996.07 L1564.67,996.08" stroke="#45DB9D" stroke-width="4.2" fill="none" stroke-linejoin="round"/>
<line x1="1308.65" y1="663" x2="1308.65" y2="684.5" stroke="#E056C7" stroke-width="2.5" stroke-linecap="butt"/>
<line x1="1298.15" y1="663" x2="1319.15" y2="663" stroke="#E056C7" stroke-width="2.5" stroke-linecap="butt"/>
<line x1="1298.15" y1="684.5" x2="1319.15" y2="684.5" stroke="#E056C7" stroke-width="2.5" stroke-linecap="butt"/>
<line x1="1381.8" y1="823.75" x2="1381.8" y2="846.25" stroke="#E056C7" stroke-width="2.5" stroke-linecap="butt"/>
<line x1="1371.3" y1="823.75" x2="1392.3" y2="823.75" stroke="#E056C7" stroke-width="2.5" stroke-linecap="butt"/>
<line x1="1371.3" y1="846.25" x2="1392.3" y2="846.25" stroke="#E056C7" stroke-width="2.5" stroke-linecap="butt"/>
<line x1="1418.38" y1="905.5" x2="1418.38" y2="926.25" stroke="#E056C7" stroke-width="2.5" stroke-linecap="butt"/>
<line x1="1407.88" y1="905.5" x2="1428.88" y2="905.5" stroke="#E056C7" stroke-width="2.5" stroke-linecap="butt"/>
<line x1="1407.88" y1="926.25" x2="1428.88" y2="926.25" stroke="#E056C7" stroke-width="2.5" stroke-linecap="butt"/>
<circle cx="1235.5" cy="714.5" r="9.1" fill="#E056C7" stroke="#000" stroke-width="1.9"/>
<circle cx="1235.5" cy="714.5" r="9.1" fill="#5F84EF" stroke="#000" stroke-width="1.9"/>
<circle cx="1235.5" cy="714.5" r="9.1" fill="#45DB9D" stroke="#000" stroke-width="1.9"/>
<circle cx="1308.65" cy="673.75" r="9.1" fill="#E056C7" stroke="#000" stroke-width="1.9"/>
<circle cx="1308.65" cy="717.5" r="9.1" fill="#5F84EF" stroke="#000" stroke-width="1.9"/>
<circle cx="1308.65" cy="687.5" r="9.1" fill="#45DB9D" stroke="#000" stroke-width="1.9"/>
<circle cx="1345.22" cy="732.5" r="9.1" fill="#E056C7" stroke="#000" stroke-width="1.9"/>
<circle cx="1345.22" cy="793.75" r="9.1" fill="#5F84EF" stroke="#000" stroke-width="1.9"/>
<circle cx="1345.22" cy="783.5" r="9.1" fill="#45DB9D" stroke="#000" stroke-width="1.9"/>
<circle cx="1381.8" cy="835" r="9.1" fill="#E056C7" stroke="#000" stroke-width="1.9"/>
<circle cx="1381.8" cy="883.75" r="9.1" fill="#5F84EF" stroke="#000" stroke-width="1.9"/>
<circle cx="1381.8" cy="867" r="9.1" fill="#45DB9D" stroke="#000" stroke-width="1.9"/>
<circle cx="1418.38" cy="915" r="9.1" fill="#E056C7" stroke="#000" stroke-width="1.9"/>
<circle cx="1418.38" cy="966.25" r="9.1" fill="#5F84EF" stroke="#000" stroke-width="1.9"/>
<circle cx="1418.38" cy="949.5" r="9.1" fill="#45DB9D" stroke="#000" stroke-width="1.9"/>
<circle cx="1454.95" cy="970" r="9.1" fill="#E056C7" stroke="#000" stroke-width="1.9"/>
<circle cx="1454.95" cy="993.75" r="9.1" fill="#5F84EF" stroke="#000" stroke-width="1.9"/>
<circle cx="1454.95" cy="985" r="9.1" fill="#45DB9D" stroke="#000" stroke-width="1.9"/>
<circle cx="1491.53" cy="987" r="9.1" fill="#E056C7" stroke="#000" stroke-width="1.9"/>
<circle cx="1491.53" cy="997" r="9.1" fill="#5F84EF" stroke="#000" stroke-width="1.9"/>
<circle cx="1491.53" cy="996.25" r="9.1" fill="#45DB9D" stroke="#000" stroke-width="1.9"/>
<circle cx="1528.1" cy="991" r="9.1" fill="#E056C7" stroke="#000" stroke-width="1.9"/>
<circle cx="1528.1" cy="997" r="9.1" fill="#5F84EF" stroke="#000" stroke-width="1.9"/>
<circle cx="1528.1" cy="996.25" r="9.1" fill="#45DB9D" stroke="#000" stroke-width="1.9"/>
<circle cx="1564.67" cy="993" r="9.1" fill="#E056C7" stroke="#000" stroke-width="1.9"/>
<circle cx="1564.67" cy="997" r="9.1" fill="#5F84EF" stroke="#000" stroke-width="1.9"/>
<circle cx="1564.67" cy="996.25" r="9.1" fill="#45DB9D" stroke="#000" stroke-width="1.9"/>
<line x1="1552.75" y1="669.25" x2="1590.25" y2="669.25" stroke="#45DB9D" stroke-width="4.5" stroke-linecap="round"/>
<circle cx="1571.5" cy="669.25" r="8.8" fill="#45DB9D" stroke="#000" stroke-width="1.8"/>
<text x="0" y="0" font-size="29.5" text-anchor="start" font-weight="bold" transform="translate(1606.75 680.5) scale(1 1.070)">cKK-E12</text>
<line x1="1552.75" y1="715" x2="1590.25" y2="715" stroke="#E056C7" stroke-width="4.5" stroke-linecap="round"/>
<circle cx="1571.5" cy="715" r="8.8" fill="#E056C7" stroke="#000" stroke-width="1.8"/>
<text x="0" y="0" font-size="29.5" text-anchor="start" font-weight="bold" transform="translate(1606.75 725.5) scale(1 1.070)">ALC-0315</text>
<line x1="1552.75" y1="758.75" x2="1590.25" y2="758.75" stroke="#5F84EF" stroke-width="4.5" stroke-linecap="round"/>
<circle cx="1571.5" cy="758.75" r="8.8" fill="#5F84EF" stroke="#000" stroke-width="1.8"/>
<text x="0" y="0" font-size="29.5" text-anchor="start" font-weight="bold" transform="translate(1606.75 768.75) scale(1 1.070)">SM-102</text>
<text x="0" y="0" font-size="68" text-anchor="start" font-weight="bold" transform="translate(20 608.5) scale(1 1.070)">b</text>
<text x="0" y="0" font-size="68" text-anchor="start" font-weight="bold" transform="translate(1011.8 1245.5) scale(1 1.070)">e</text>
<text x="0" y="0" font-size="34.7" text-anchor="middle" font-weight="bold" transform="translate(1411.2 1206.8) scale(1 1.060)">day 14</text>
<line x1="1292.9" y1="1325.7" x2="1292.9" y2="1648.7" stroke="#000" stroke-width="3" stroke-linecap="butt"/>
<line x1="1278.6" y1="1647.2" x2="1531" y2="1647.2" stroke="#000" stroke-width="3" stroke-linecap="butt"/>
<line x1="1278.6" y1="1327.2" x2="1292.9" y2="1327.2" stroke="#000" stroke-width="3" stroke-linecap="butt"/>
<text x="0" y="0" font-size="30.8" text-anchor="end" font-weight="bold" transform="translate(1273.2 1339.3) scale(1 1.100)">1000</text>
<line x1="1278.6" y1="1391.5" x2="1292.9" y2="1391.5" stroke="#000" stroke-width="3" stroke-linecap="butt"/>
<text x="0" y="0" font-size="30.8" text-anchor="end" font-weight="bold" transform="translate(1273.2 1403.6) scale(1 1.100)">800</text>
<line x1="1278.6" y1="1455.5" x2="1292.9" y2="1455.5" stroke="#000" stroke-width="3" stroke-linecap="butt"/>
<text x="0" y="0" font-size="30.8" text-anchor="end" font-weight="bold" transform="translate(1273.2 1467.6) scale(1 1.100)">600</text>
<line x1="1278.6" y1="1519.6" x2="1292.9" y2="1519.6" stroke="#000" stroke-width="3" stroke-linecap="butt"/>
<text x="0" y="0" font-size="30.8" text-anchor="end" font-weight="bold" transform="translate(1273.2 1531.7) scale(1 1.100)">400</text>
<line x1="1278.6" y1="1583.4" x2="1292.9" y2="1583.4" stroke="#000" stroke-width="3" stroke-linecap="butt"/>
<text x="0" y="0" font-size="30.8" text-anchor="end" font-weight="bold" transform="translate(1273.2 1595.5) scale(1 1.100)">200</text>
<text x="0" y="0" font-size="30.8" text-anchor="end" font-weight="bold" transform="translate(1273.2 1659.3) scale(1 1.100)">0</text>
<line x1="1339.9" y1="1647.2" x2="1339.9" y2="1658.5" stroke="#000" stroke-width="3" stroke-linecap="butt"/>
<line x1="1411.1" y1="1647.2" x2="1411.1" y2="1658.5" stroke="#000" stroke-width="3" stroke-linecap="butt"/>
<line x1="1482.1" y1="1647.2" x2="1482.1" y2="1658.5" stroke="#000" stroke-width="3" stroke-linecap="butt"/>
<text x="0" y="0" font-size="31" text-anchor="end" font-weight="bold" transform="translate(1346.7 1688.9) rotate(-45) scale(1 1.070)">cKK-E12</text>
<text x="0" y="0" font-size="31" text-anchor="end" font-weight="bold" transform="translate(1418.6 1690.2) rotate(-45) scale(1 1.070)">ALC-0315</text>
<text x="0" y="0" font-size="31" text-anchor="end" font-weight="bold" transform="translate(1482.1 1692.7) rotate(-45) scale(1 1.070)">SM-102</text>
<text x="0" y="0" font-size="33.5" text-anchor="start" font-weight="bold" transform="translate(1196.3 1531.1) rotate(-90) scale(1 1.070)">Neut<tspan font-size="24.5" dy="9">50</tspan></text>
<path d="M1340.7,1291 L1340.7,1273.8 L1482.8,1273.8 L1482.8,1291" stroke="#000" stroke-width="3" fill="none" stroke-linejoin="miter"/>
<text x="0" y="0" font-size="30.5" text-anchor="middle" font-weight="bold" transform="translate(1411 1257.6) scale(1 1.070)">ns</text>
<path d="M1340.7,1349 L1340.7,1330.7 L1404.1,1330.7 L1404.1,1349" stroke="#000" stroke-width="3" fill="none" stroke-linejoin="miter"/>
<text x="1370.45" y="1319.4" font-size="25.4" text-anchor="middle" font-weight="bold" font-family="DejaVu Sans" letter-spacing="-1.9">&#10033;&#10033;</text>
<path d="M1416.6,1347.9 L1416.6,1330.7 L1481,1330.7 L1481,1347.9" stroke="#000" stroke-width="3" fill="none" stroke-linejoin="miter"/>
<text x="1445.8" y="1319.4" font-size="25.4" text-anchor="middle" font-weight="bold" font-family="DejaVu Sans" letter-spacing="-3">&#10033;&#10033;&#10033;</text>
<line x1="1340.2" y1="1426.8" x2="1340.2" y2="1645.6" stroke="#000" stroke-width="1.6" stroke-linecap="butt"/>
<path d="M1340.2,1444.6 C1340.29,1445.19 1340.42,1447.02 1340.76,1448.12 C1341.09,1449.22 1341.71,1450.32 1342.24,1451.2 C1342.76,1452.08 1343.17,1451.55 1343.9,1453.4 C1344.63,1455.25 1346.08,1459.33 1346.6,1462.3 C1347.12,1465.27 1347.08,1468.25 1347,1471.2 C1346.92,1474.15 1346.2,1476.8 1346.1,1480 C1346,1483.2 1345.9,1486.95 1346.4,1490.4 C1346.9,1493.85 1347.67,1497 1349.1,1500.7 C1350.53,1504.4 1353.28,1509.15 1355,1512.6 C1356.72,1516.05 1358.17,1518.2 1359.4,1521.4 C1360.63,1524.6 1361.9,1528.83 1362.4,1531.8 C1362.9,1534.77 1362.65,1536.75 1362.4,1539.2 C1362.15,1541.65 1361.52,1543.55 1360.9,1546.5 C1360.28,1549.45 1359.43,1552.7 1358.7,1556.9 C1357.97,1561.1 1357.37,1566.78 1356.5,1571.7 C1355.63,1576.62 1354.87,1581.48 1353.5,1586.4 C1352.13,1591.32 1350.02,1596.27 1348.3,1601.2 C1346.58,1606.13 1344.28,1613.16 1343.2,1616 C1342.12,1618.84 1342.28,1617.33 1341.85,1618.22 C1341.43,1619.12 1340.93,1620.23 1340.65,1621.34 C1340.38,1622.45 1340.28,1624.31 1340.2,1624.9 C1340.12,1624.31 1340.03,1622.45 1339.75,1621.34 C1339.47,1620.23 1338.97,1619.12 1338.55,1618.22 C1338.12,1617.33 1338.28,1618.84 1337.2,1616 C1336.12,1613.16 1333.82,1606.13 1332.1,1601.2 C1330.38,1596.27 1328.27,1591.32 1326.9,1586.4 C1325.53,1581.48 1324.77,1576.62 1323.9,1571.7 C1323.03,1566.78 1322.43,1561.1 1321.7,1556.9 C1320.97,1552.7 1320.12,1549.45 1319.5,1546.5 C1318.88,1543.55 1318.25,1541.65 1318,1539.2 C1317.75,1536.75 1317.5,1534.77 1318,1531.8 C1318.5,1528.83 1319.77,1524.6 1321,1521.4 C1322.23,1518.2 1323.68,1516.05 1325.4,1512.6 C1327.12,1509.15 1329.87,1504.4 1331.3,1500.7 C1332.73,1497 1333.5,1493.85 1334,1490.4 C1334.5,1486.95 1334.4,1483.2 1334.3,1480 C1334.2,1476.8 1333.48,1474.15 1333.4,1471.2 C1333.32,1468.25 1333.28,1465.27 1333.8,1462.3 C1334.32,1459.33 1335.77,1455.25 1336.5,1453.4 C1337.23,1451.55 1337.64,1452.08 1338.16,1451.2 C1338.69,1450.32 1339.31,1449.22 1339.64,1448.12 C1339.98,1447.02 1340.11,1445.19 1340.2,1444.6 Z" stroke="#000" stroke-width="1.6" fill="#45DB9D" stroke-linejoin="round"/>
<line x1="1324" y1="1521.4" x2="1356.5" y2="1521.4" stroke="#000" stroke-width="1.5" stroke-linecap="butt" stroke-dasharray="2.2,2.8"/>
<line x1="1327" y1="1573.9" x2="1355.8" y2="1573.9" stroke="#000" stroke-width="1.5" stroke-linecap="butt" stroke-dasharray="2.2,2.8"/>
<line x1="1318.1" y1="1542.1" x2="1361.7" y2="1542.1" stroke="#000" stroke-width="3.6" stroke-linecap="butt"/>
<circle cx="1340.2" cy="1471.2" r="4.3" fill="none" stroke="#000" stroke-width="1.5"/>
<circle cx="1340.2" cy="1506.6" r="4.3" fill="none" stroke="#000" stroke-width="1.5"/>
<circle cx="1330.3" cy="1526.6" r="4.3" fill="none" stroke="#000" stroke-width="1.5"/>
<circle cx="1349.8" cy="1527.3" r="4.3" fill="none" stroke="#000" stroke-width="1.5"/>
<circle cx="1349.8" cy="1539.2" r="4.3" fill="none" stroke="#000" stroke-width="1.5"/>
<circle cx="1330.3" cy="1545.1" r="4.3" fill="none" stroke="#000" stroke-width="1.5"/>
<circle cx="1340.2" cy="1561.3" r="4.3" fill="none" stroke="#000" stroke-width="1.5"/>
<circle cx="1330.3" cy="1571.7" r="4.3" fill="none" stroke="#000" stroke-width="1.5"/>
<circle cx="1349.8" cy="1580.5" r="4.3" fill="none" stroke="#000" stroke-width="1.5"/>
<circle cx="1340.2" cy="1598.3" r="4.3" fill="none" stroke="#000" stroke-width="1.5"/>
<line x1="1411.2" y1="1525.1" x2="1411.2" y2="1633" stroke="#000" stroke-width="1.6" stroke-linecap="butt"/>
<path d="M1411.2,1534.7 C1411.35,1535.19 1411.54,1536.74 1412.09,1537.66 C1412.63,1538.59 1413.61,1539.51 1414.44,1540.25 C1415.28,1540.99 1416.16,1540.56 1417.1,1542.1 C1418.04,1543.64 1418.98,1546.55 1420.1,1549.5 C1421.22,1552.45 1422.45,1556.6 1423.8,1559.8 C1425.15,1563 1426.98,1565.5 1428.2,1568.7 C1429.42,1571.9 1430.37,1576.05 1431.1,1579 C1431.83,1581.95 1432.35,1583.93 1432.6,1586.4 C1432.85,1588.87 1432.85,1591.33 1432.6,1593.8 C1432.35,1596.27 1431.72,1598.48 1431.1,1601.2 C1430.48,1603.92 1430.73,1607.63 1428.9,1610.1 C1427.07,1612.57 1422.23,1614.77 1420.1,1616 C1417.97,1617.23 1417.36,1616.88 1416.1,1617.47 C1414.83,1618.06 1413.35,1618.8 1412.54,1619.54 C1411.72,1620.28 1411.42,1621.51 1411.2,1621.9 C1410.98,1621.51 1410.68,1620.28 1409.87,1619.54 C1409.05,1618.8 1407.57,1618.06 1406.31,1617.47 C1405.04,1616.88 1404.43,1617.23 1402.3,1616 C1400.17,1614.77 1395.33,1612.57 1393.5,1610.1 C1391.67,1607.63 1391.92,1603.92 1391.3,1601.2 C1390.68,1598.48 1390.05,1596.27 1389.8,1593.8 C1389.55,1591.33 1389.55,1588.87 1389.8,1586.4 C1390.05,1583.93 1390.57,1581.95 1391.3,1579 C1392.03,1576.05 1392.98,1571.9 1394.2,1568.7 C1395.42,1565.5 1397.25,1563 1398.6,1559.8 C1399.95,1556.6 1401.18,1552.45 1402.3,1549.5 C1403.42,1546.55 1404.36,1543.64 1405.3,1542.1 C1406.24,1540.56 1407.12,1540.99 1407.96,1540.25 C1408.79,1539.51 1409.77,1538.59 1410.32,1537.66 C1410.86,1536.74 1411.05,1535.19 1411.2,1534.7 Z" stroke="#000" stroke-width="1.6" fill="#E056C7" stroke-linejoin="round"/>
<line x1="1395.7" y1="1566.5" x2="1426.7" y2="1566.5" stroke="#000" stroke-width="1.5" stroke-linecap="butt" stroke-dasharray="2.2,2.8"/>
<line x1="1392" y1="1602" x2="1431.1" y2="1602" stroke="#000" stroke-width="1.5" stroke-linecap="butt" stroke-dasharray="2.2,2.8"/>
<line x1="1389" y1="1583.5" x2="1432.6" y2="1583.5" stroke="#000" stroke-width="3.6" stroke-linecap="butt"/>
<circle cx="1411.2" cy="1548" r="4.3" fill="none" stroke="#000" stroke-width="1.5"/>
<circle cx="1401.6" cy="1564.3" r="4.3" fill="none" stroke="#000" stroke-width="1.5"/>
<circle cx="1420.8" cy="1566.5" r="4.3" fill="none" stroke="#000" stroke-width="1.5"/>
<circle cx="1392" cy="1576.1" r="4.3" fill="none" stroke="#000" stroke-width="1.5"/>
<circle cx="1411.2" cy="1579.8" r="4.3" fill="none" stroke="#000" stroke-width="1.5"/>
<circle cx="1392" cy="1586.4" r="4.3" fill="none" stroke="#000" stroke-width="1.5"/>
<circle cx="1411.2" cy="1589.4" r="4.3" fill="none" stroke="#000" stroke-width="1.5"/>
<circle cx="1411.2" cy="1600.5" r="4.3" fill="none" stroke="#000" stroke-width="1.5"/>
<circle cx="1431.1" cy="1604.2" r="4.3" fill="none" stroke="#000" stroke-width="1.5"/>
<circle cx="1392" cy="1608.6" r="4.3" fill="none" stroke="#000" stroke-width="1.5"/>
<line x1="1482.1" y1="1369.2" x2="1482.1" y2="1620.4" stroke="#000" stroke-width="1.6" stroke-linecap="butt"/>
<path d="M1482.1,1394.3 C1482.25,1395.29 1482.44,1398.37 1482.98,1400.22 C1483.53,1402.07 1484.51,1403.92 1485.34,1405.4 C1486.18,1406.88 1487.31,1406.02 1488,1409.1 C1488.69,1412.18 1489,1418.97 1489.5,1423.9 C1490,1428.83 1490.13,1433.78 1491,1438.7 C1491.87,1443.62 1493.35,1448.48 1494.7,1453.4 C1496.05,1458.32 1497.88,1463.77 1499.1,1468.2 C1500.32,1472.63 1501.75,1476.3 1502,1480 C1502.25,1483.7 1501.58,1486.2 1500.6,1490.4 C1499.62,1494.6 1497.22,1500.28 1496.1,1505.2 C1494.98,1510.12 1493.52,1514.98 1493.9,1519.9 C1494.28,1524.82 1496.8,1529.77 1498.4,1534.7 C1500,1539.63 1502.4,1545.32 1503.5,1549.5 C1504.6,1553.68 1505.48,1556.6 1505,1559.8 C1504.52,1563 1502.57,1565.5 1500.6,1568.7 C1498.63,1571.9 1495.67,1575.55 1493.2,1579 C1490.73,1582.45 1487.31,1587.42 1485.8,1589.4 C1484.29,1591.38 1484.66,1590.29 1484.13,1590.88 C1483.61,1591.46 1482.99,1592.2 1482.65,1592.94 C1482.32,1593.68 1482.19,1594.91 1482.1,1595.3 C1482.01,1594.91 1481.88,1593.68 1481.54,1592.94 C1481.21,1592.2 1480.59,1591.46 1480.06,1590.88 C1479.54,1590.29 1479.91,1591.38 1478.4,1589.4 C1476.89,1587.42 1473.47,1582.45 1471,1579 C1468.53,1575.55 1465.57,1571.9 1463.6,1568.7 C1461.63,1565.5 1459.68,1563 1459.2,1559.8 C1458.72,1556.6 1459.6,1553.68 1460.7,1549.5 C1461.8,1545.32 1464.2,1539.63 1465.8,1534.7 C1467.4,1529.77 1469.92,1524.82 1470.3,1519.9 C1470.68,1514.98 1469.22,1510.12 1468.1,1505.2 C1466.98,1500.28 1464.58,1494.6 1463.6,1490.4 C1462.62,1486.2 1461.95,1483.7 1462.2,1480 C1462.45,1476.3 1463.88,1472.63 1465.1,1468.2 C1466.32,1463.77 1468.15,1458.32 1469.5,1453.4 C1470.85,1448.48 1472.33,1443.62 1473.2,1438.7 C1474.07,1433.78 1474.2,1428.83 1474.7,1423.9 C1475.2,1418.97 1475.51,1412.18 1476.2,1409.1 C1476.89,1406.02 1478.02,1406.88 1478.86,1405.4 C1479.69,1403.92 1480.67,1402.07 1481.21,1400.22 C1481.76,1398.37 1481.95,1395.29 1482.1,1394.3 Z" stroke="#000" stroke-width="1.6" fill="#5F84EF" stroke-linejoin="round"/>
<line x1="1465.8" y1="1470" x2="1498.4" y2="1470" stroke="#000" stroke-width="1.5" stroke-linecap="butt" stroke-dasharray="2.2,2.8"/>
<line x1="1461.4" y1="1555.4" x2="1504.3" y2="1555.4" stroke="#000" stroke-width="1.5" stroke-linecap="butt" stroke-dasharray="2.2,2.8"/>
<line x1="1468" y1="1500.7" x2="1496.9" y2="1500.7" stroke="#000" stroke-width="3.6" stroke-linecap="butt"/>
<circle cx="1482.1" cy="1424.6" r="4.3" fill="none" stroke="#000" stroke-width="1.5"/>
<circle cx="1482.1" cy="1456.1" r="4.3" fill="none" stroke="#000" stroke-width="1.5"/>
<circle cx="1463.6" cy="1474.9" r="4.3" fill="none" stroke="#000" stroke-width="1.5"/>
<circle cx="1482.1" cy="1480.8" r="4.3" fill="none" stroke="#000" stroke-width="1.5"/>
<circle cx="1482.1" cy="1493.3" r="4.3" fill="none" stroke="#000" stroke-width="1.5"/>
<circle cx="1482.1" cy="1507.4" r="4.3" fill="none" stroke="#000" stroke-width="1.5"/>
<circle cx="1482.1" cy="1542.8" r="4.3" fill="none" stroke="#000" stroke-width="1.5"/>
<circle cx="1482.1" cy="1555.1" r="4.3" fill="none" stroke="#000" stroke-width="1.5"/>
<circle cx="1501.3" cy="1557.6" r="4.3" fill="none" stroke="#000" stroke-width="1.5"/>
<circle cx="1463.6" cy="1561.3" r="4.3" fill="none" stroke="#000" stroke-width="1.5"/>
<text x="0" y="0" font-size="68" text-anchor="start" font-weight="bold" transform="translate(1031.5 1906) scale(1 1.070)">f</text>
<text x="0" y="0" font-size="34.7" text-anchor="middle" font-weight="bold" transform="translate(1406.9 1871.9) scale(1 1.060)">day 35</text>
<line x1="1287.9" y1="1988.5" x2="1287.9" y2="2311.5" stroke="#000" stroke-width="3" stroke-linecap="butt"/>
<line x1="1286.4" y1="2310" x2="1525.9" y2="2310" stroke="#000" stroke-width="3" stroke-linecap="butt"/>
<line x1="1274.1" y1="1990" x2="1287.9" y2="1990" stroke="#000" stroke-width="3" stroke-linecap="butt"/>
<text x="0" y="0" font-size="30.8" text-anchor="end" font-weight="bold" transform="translate(1269.4 2002.1) scale(1 1.100)">40000</text>
<line x1="1274.1" y1="2070.7" x2="1287.9" y2="2070.7" stroke="#000" stroke-width="3" stroke-linecap="butt"/>
<text x="0" y="0" font-size="30.8" text-anchor="end" font-weight="bold" transform="translate(1269.4 2082.8) scale(1 1.100)">30000</text>
<line x1="1274.1" y1="2150.3" x2="1287.9" y2="2150.3" stroke="#000" stroke-width="3" stroke-linecap="butt"/>
<text x="0" y="0" font-size="30.8" text-anchor="end" font-weight="bold" transform="translate(1269.4 2162.4) scale(1 1.100)">20000</text>
<line x1="1274.1" y1="2230.3" x2="1287.9" y2="2230.3" stroke="#000" stroke-width="3" stroke-linecap="butt"/>
<text x="0" y="0" font-size="30.8" text-anchor="end" font-weight="bold" transform="translate(1269.4 2242.4) scale(1 1.100)">10000</text>
<line x1="1336" y1="2310" x2="1336" y2="2323.4" stroke="#000" stroke-width="3" stroke-linecap="butt"/>
<line x1="1407.4" y1="2310" x2="1407.4" y2="2323.4" stroke="#000" stroke-width="3" stroke-linecap="butt"/>
<line x1="1478.8" y1="2310" x2="1478.8" y2="2323.4" stroke="#000" stroke-width="3" stroke-linecap="butt"/>
<text x="0" y="0" font-size="31" text-anchor="end" font-weight="bold" transform="translate(1342.8 2351.7) rotate(-45) scale(1 1.070)">cKK-E12</text>
<text x="0" y="0" font-size="31" text-anchor="end" font-weight="bold" transform="translate(1414.9 2353) rotate(-45) scale(1 1.070)">ALC-0315</text>
<text x="0" y="0" font-size="31" text-anchor="end" font-weight="bold" transform="translate(1478.8 2355.5) rotate(-45) scale(1 1.070)">SM-102</text>
<text x="0" y="0" font-size="33.5" text-anchor="start" font-weight="bold" transform="translate(1159.7 2193.3) rotate(-90) scale(1 1.070)">Neut<tspan font-size="24.5" dy="9">50</tspan></text>
<path d="M1336.2,1961.4 L1336.2,1948.6 L1482.8,1948.6 L1482.8,1961.4" stroke="#000" stroke-width="3" fill="none" stroke-linejoin="miter"/>
<text x="0" y="0" font-size="30.5" text-anchor="middle" font-weight="bold" transform="translate(1409.3 1932.1) scale(1 1.070)">ns</text>
<path d="M1339,2014.8 L1339,2002.8 L1404.1,2002.8 L1404.1,2014.8" stroke="#000" stroke-width="3" fill="none" stroke-linejoin="miter"/>
<text x="1370.7" y="1989.7" font-size="25.4" text-anchor="middle" font-weight="bold" font-family="DejaVu Sans" letter-spacing="0">&#10033;</text>
<path d="M1418.3,2014.8 L1418.3,2002.8 L1482.1,2002.8 L1482.1,2014.8" stroke="#000" stroke-width="3" fill="none" stroke-linejoin="miter"/>
<text x="1449" y="1989.7" font-size="25.4" text-anchor="middle" font-weight="bold" font-family="DejaVu Sans" letter-spacing="0">&#10033;</text>
<line x1="1336.1" y1="2079.8" x2="1336.1" y2="2305.9" stroke="#000" stroke-width="1.6" stroke-linecap="butt"/>
<path d="M1336.1,2093.9 C1336.19,2094.49 1336.32,2096.35 1336.65,2097.46 C1336.99,2098.57 1337.61,2099.69 1338.13,2100.58 C1338.66,2101.47 1339.16,2100.46 1339.8,2102.8 C1340.44,2105.14 1341.58,2110.67 1342,2114.6 C1342.42,2118.53 1342.55,2122.72 1342.3,2126.4 C1342.05,2130.08 1341.03,2133.5 1340.5,2136.7 C1339.97,2139.9 1339.22,2142.88 1339.1,2145.6 C1338.98,2148.32 1338.82,2150.53 1339.8,2153 C1340.78,2155.47 1342.9,2157.93 1345,2160.4 C1347.1,2162.87 1350.32,2165.33 1352.4,2167.8 C1354.48,2170.27 1356.28,2172.98 1357.5,2175.2 C1358.72,2177.42 1359.82,2179.13 1359.7,2181.1 C1359.58,2183.07 1358.02,2185.03 1356.8,2187 C1355.58,2188.97 1353.88,2190.68 1352.4,2192.9 C1350.92,2195.12 1348.52,2197.58 1347.9,2200.3 C1347.28,2203.02 1347.95,2206 1348.7,2209.2 C1349.45,2212.4 1351.42,2216.07 1352.4,2219.5 C1353.38,2222.93 1354.37,2226.6 1354.6,2229.8 C1354.83,2233 1354.42,2235.5 1353.8,2238.7 C1353.18,2241.9 1352.37,2244.82 1350.9,2249 C1349.43,2253.18 1346.97,2258.87 1345,2263.8 C1343.03,2268.73 1340.31,2275.82 1339.1,2278.6 C1337.89,2281.38 1338.17,2279.71 1337.75,2280.45 C1337.33,2281.19 1336.83,2282.11 1336.55,2283.04 C1336.27,2283.97 1336.17,2285.51 1336.1,2286 C1336.02,2285.51 1335.92,2283.97 1335.65,2283.04 C1335.37,2282.11 1334.87,2281.19 1334.45,2280.45 C1334.02,2279.71 1334.31,2281.38 1333.1,2278.6 C1331.89,2275.82 1329.17,2268.73 1327.2,2263.8 C1325.23,2258.87 1322.77,2253.18 1321.3,2249 C1319.83,2244.82 1319.02,2241.9 1318.4,2238.7 C1317.78,2235.5 1317.37,2233 1317.6,2229.8 C1317.83,2226.6 1318.82,2222.93 1319.8,2219.5 C1320.78,2216.07 1322.75,2212.4 1323.5,2209.2 C1324.25,2206 1324.92,2203.02 1324.3,2200.3 C1323.68,2197.58 1321.28,2195.12 1319.8,2192.9 C1318.32,2190.68 1316.62,2188.97 1315.4,2187 C1314.18,2185.03 1312.62,2183.07 1312.5,2181.1 C1312.38,2179.13 1313.48,2177.42 1314.7,2175.2 C1315.92,2172.98 1317.72,2170.27 1319.8,2167.8 C1321.88,2165.33 1325.1,2162.87 1327.2,2160.4 C1329.3,2157.93 1331.42,2155.47 1332.4,2153 C1333.38,2150.53 1333.22,2148.32 1333.1,2145.6 C1332.98,2142.88 1332.23,2139.9 1331.7,2136.7 C1331.17,2133.5 1330.15,2130.08 1329.9,2126.4 C1329.65,2122.72 1329.78,2118.53 1330.2,2114.6 C1330.62,2110.67 1331.76,2105.14 1332.4,2102.8 C1333.04,2100.46 1333.54,2101.47 1334.06,2100.58 C1334.59,2099.69 1335.21,2098.57 1335.54,2097.46 C1335.88,2096.35 1336.01,2094.49 1336.1,2093.9 Z" stroke="#000" stroke-width="1.6" fill="#45DB9D" stroke-linejoin="round"/>
<line x1="1314.4" y1="2180.3" x2="1358" y2="2180.3" stroke="#000" stroke-width="1.5" stroke-linecap="butt" stroke-dasharray="2.2,2.8"/>
<line x1="1321" y1="2236.9" x2="1352" y2="2236.9" stroke="#000" stroke-width="1.5" stroke-linecap="butt" stroke-dasharray="2.2,2.8"/>
<line x1="1324.3" y1="2200.3" x2="1347.6" y2="2200.3" stroke="#000" stroke-width="3.6" stroke-linecap="butt"/>
<circle cx="1336.1" cy="2126.4" r="4.3" fill="none" stroke="#000" stroke-width="1.5"/>
<circle cx="1329.2" cy="2176.9" r="4.3" fill="none" stroke="#000" stroke-width="1.5"/>
<circle cx="1317.3" cy="2180.3" r="4.3" fill="none" stroke="#000" stroke-width="1.5"/>
<circle cx="1342" cy="2182.6" r="4.3" fill="none" stroke="#000" stroke-width="1.5"/>
<circle cx="1355" cy="2181.1" r="4.3" fill="none" stroke="#000" stroke-width="1.5"/>
<circle cx="1329.9" cy="2218" r="4.3" fill="none" stroke="#000" stroke-width="1.5"/>
<circle cx="1342" cy="2221" r="4.3" fill="none" stroke="#000" stroke-width="1.5"/>
<circle cx="1329.9" cy="2234.3" r="4.3" fill="none" stroke="#000" stroke-width="1.5"/>
<circle cx="1342" cy="2240.5" r="4.3" fill="none" stroke="#000" stroke-width="1.5"/>
<circle cx="1336.1" cy="2259.4" r="4.3" fill="none" stroke="#000" stroke-width="1.5"/>
<line x1="1407.5" y1="2161.9" x2="1407.5" y2="2310" stroke="#000" stroke-width="1.6" stroke-linecap="butt"/>
<path d="M1407.5,2178.9 C1407.61,2179.34 1407.76,2180.72 1408.16,2181.54 C1408.56,2182.36 1409.3,2183.19 1409.92,2183.85 C1410.54,2184.51 1410.95,2183.74 1411.9,2185.5 C1412.85,2187.26 1414.62,2191.2 1415.6,2194.4 C1416.58,2197.6 1417.3,2201.02 1417.8,2204.7 C1418.3,2208.38 1417.85,2213.05 1418.6,2216.5 C1419.35,2219.95 1420.7,2222.68 1422.3,2225.4 C1423.9,2228.12 1426.85,2230.83 1428.2,2232.8 C1429.55,2234.77 1430.65,2235.23 1430.4,2237.2 C1430.15,2239.17 1428.3,2242.13 1426.7,2244.6 C1425.1,2247.07 1422.4,2249.53 1420.8,2252 C1419.2,2254.47 1418.08,2256.2 1417.1,2259.4 C1416.12,2262.6 1415.52,2266.77 1414.9,2271.2 C1414.28,2275.63 1413.77,2281.82 1413.4,2286 C1413.03,2290.18 1413.32,2293.1 1412.7,2296.3 C1412.08,2299.5 1410.37,2303.5 1409.7,2305.2 C1409.04,2306.9 1409.02,2305.98 1408.71,2306.5 C1408.4,2307.02 1408.03,2307.67 1407.83,2308.32 C1407.63,2308.97 1407.56,2310.05 1407.5,2310.4 C1407.44,2310.05 1407.37,2308.97 1407.17,2308.32 C1406.97,2307.67 1406.6,2307.02 1406.29,2306.5 C1405.98,2305.98 1405.96,2306.9 1405.3,2305.2 C1404.63,2303.5 1402.92,2299.5 1402.3,2296.3 C1401.68,2293.1 1401.97,2290.18 1401.6,2286 C1401.23,2281.82 1400.72,2275.63 1400.1,2271.2 C1399.48,2266.77 1398.88,2262.6 1397.9,2259.4 C1396.92,2256.2 1395.8,2254.47 1394.2,2252 C1392.6,2249.53 1389.9,2247.07 1388.3,2244.6 C1386.7,2242.13 1384.85,2239.17 1384.6,2237.2 C1384.35,2235.23 1385.45,2234.77 1386.8,2232.8 C1388.15,2230.83 1391.1,2228.12 1392.7,2225.4 C1394.3,2222.68 1395.65,2219.95 1396.4,2216.5 C1397.15,2213.05 1396.7,2208.38 1397.2,2204.7 C1397.7,2201.02 1398.42,2197.6 1399.4,2194.4 C1400.38,2191.2 1402.15,2187.26 1403.1,2185.5 C1404.05,2183.74 1404.46,2184.51 1405.08,2183.85 C1405.7,2183.19 1406.44,2182.36 1406.84,2181.54 C1407.24,2180.72 1407.39,2179.34 1407.5,2178.9 Z" stroke="#000" stroke-width="1.6" fill="#E056C7" stroke-linejoin="round"/>
<line x1="1396" y1="2216.5" x2="1419" y2="2216.5" stroke="#000" stroke-width="1.5" stroke-linecap="butt" stroke-dasharray="2.2,2.8"/>
<line x1="1397.5" y1="2257.9" x2="1417" y2="2257.9" stroke="#000" stroke-width="1.5" stroke-linecap="butt" stroke-dasharray="2.2,2.8"/>
<line x1="1384.6" y1="2237.2" x2="1430.4" y2="2237.2" stroke="#000" stroke-width="3.6" stroke-linecap="butt"/>
<circle cx="1400.8" cy="2195.9" r="4.3" fill="none" stroke="#000" stroke-width="1.5"/>
<circle cx="1413.4" cy="2205.5" r="4.3" fill="none" stroke="#000" stroke-width="1.5"/>
<circle cx="1406.7" cy="2219.5" r="4.3" fill="none" stroke="#000" stroke-width="1.5"/>
<circle cx="1413.8" cy="2232.8" r="4.3" fill="none" stroke="#000" stroke-width="1.5"/>
<circle cx="1426" cy="2233.5" r="4.3" fill="none" stroke="#000" stroke-width="1.5"/>
<circle cx="1400.8" cy="2240.2" r="4.3" fill="none" stroke="#000" stroke-width="1.5"/>
<circle cx="1413.4" cy="2243.4" r="4.3" fill="none" stroke="#000" stroke-width="1.5"/>
<circle cx="1406.7" cy="2253.5" r="4.3" fill="none" stroke="#000" stroke-width="1.5"/>
<circle cx="1406.7" cy="2271.2" r="4.3" fill="none" stroke="#000" stroke-width="1.5"/>
<circle cx="1407.5" cy="2294.9" r="4.3" fill="none" stroke="#000" stroke-width="1.5"/>
<line x1="1478.9" y1="2029.6" x2="1478.9" y2="2291.2" stroke="#000" stroke-width="1.6" stroke-linecap="butt"/>
<path d="M1478.9,2049.6 C1479.01,2050.39 1479.16,2052.85 1479.56,2054.32 C1479.96,2055.8 1480.7,2057.27 1481.32,2058.45 C1481.94,2059.63 1482.6,2059.19 1483.3,2061.4 C1484,2063.61 1485,2068.02 1485.5,2071.7 C1486,2075.38 1486.42,2079.32 1486.3,2083.5 C1486.18,2087.68 1485.53,2092.6 1484.8,2096.8 C1484.07,2101 1482.61,2106.22 1481.9,2108.7 C1481.19,2111.17 1480.98,2110.47 1480.55,2111.65 C1480.13,2112.83 1479.63,2114.3 1479.35,2115.78 C1479.08,2117.25 1478.98,2119.71 1478.9,2120.5 C1478.83,2119.71 1478.73,2117.25 1478.45,2115.78 C1478.17,2114.3 1477.67,2112.83 1477.25,2111.65 C1476.83,2110.47 1476.61,2111.17 1475.9,2108.7 C1475.19,2106.22 1473.73,2101 1473,2096.8 C1472.27,2092.6 1471.62,2087.68 1471.5,2083.5 C1471.38,2079.32 1471.8,2075.38 1472.3,2071.7 C1472.8,2068.02 1473.8,2063.61 1474.5,2061.4 C1475.2,2059.19 1475.86,2059.63 1476.48,2058.45 C1477.1,2057.27 1477.84,2055.8 1478.24,2054.32 C1478.64,2052.85 1478.79,2050.39 1478.9,2049.6 Z" stroke="#000" stroke-width="1.6" fill="#5F84EF" stroke-linejoin="round"/>
<path d="M1478.9,2153 C1478.98,2153.49 1479.08,2155.03 1479.35,2155.96 C1479.63,2156.89 1480.13,2157.81 1480.55,2158.55 C1480.98,2159.29 1480.46,2157.62 1481.9,2160.4 C1483.34,2163.18 1486.75,2170.27 1489.2,2175.2 C1491.65,2180.13 1494.5,2185.57 1496.6,2190 C1498.7,2194.43 1500.82,2198.85 1501.8,2201.8 C1502.78,2204.75 1502.75,2205.48 1502.5,2207.7 C1502.25,2209.92 1501.65,2211.9 1500.3,2215.1 C1498.95,2218.3 1496.12,2222.97 1494.4,2226.9 C1492.68,2230.83 1491.6,2234.77 1490,2238.7 C1488.4,2242.63 1486.4,2246.55 1484.8,2250.5 C1483.2,2254.45 1481.25,2260.17 1480.4,2262.4 C1479.55,2264.63 1479.94,2263.28 1479.73,2263.88 C1479.51,2264.47 1479.26,2265.2 1479.12,2265.94 C1478.99,2266.68 1478.94,2267.91 1478.9,2268.3 C1478.86,2267.91 1478.81,2266.68 1478.68,2265.94 C1478.54,2265.2 1478.29,2264.47 1478.08,2263.88 C1477.86,2263.28 1478.25,2264.63 1477.4,2262.4 C1476.55,2260.17 1474.6,2254.45 1473,2250.5 C1471.4,2246.55 1469.4,2242.63 1467.8,2238.7 C1466.2,2234.77 1465.12,2230.83 1463.4,2226.9 C1461.68,2222.97 1458.85,2218.3 1457.5,2215.1 C1456.15,2211.9 1455.55,2209.92 1455.3,2207.7 C1455.05,2205.48 1455.02,2204.75 1456,2201.8 C1456.98,2198.85 1459.1,2194.43 1461.2,2190 C1463.3,2185.57 1466.15,2180.13 1468.6,2175.2 C1471.05,2170.27 1474.46,2163.18 1475.9,2160.4 C1477.34,2157.62 1476.83,2159.29 1477.25,2158.55 C1477.67,2157.81 1478.17,2156.89 1478.45,2155.96 C1478.73,2155.03 1478.83,2153.49 1478.9,2153 Z" stroke="#000" stroke-width="1.6" fill="#5F84EF" stroke-linejoin="round"/>
<line x1="1461" y1="2216.5" x2="1497" y2="2216.5" stroke="#000" stroke-width="1.5" stroke-linecap="butt" stroke-dasharray="2.2,2.8"/>
<line x1="1456.2" y1="2207.7" x2="1501.3" y2="2207.7" stroke="#000" stroke-width="3.6" stroke-linecap="butt"/>
<circle cx="1478.9" cy="2079.1" r="4.3" fill="none" stroke="#000" stroke-width="1.5"/>
<circle cx="1478.9" cy="2096.1" r="4.3" fill="none" stroke="#000" stroke-width="1.5"/>
<circle cx="1478.4" cy="2181.1" r="4.3" fill="none" stroke="#000" stroke-width="1.5"/>
<circle cx="1478.4" cy="2191.4" r="4.3" fill="none" stroke="#000" stroke-width="1.5"/>
<circle cx="1497.6" cy="2204" r="4.3" fill="none" stroke="#000" stroke-width="1.5"/>
<circle cx="1485.1" cy="2209.9" r="4.3" fill="none" stroke="#000" stroke-width="1.5"/>
<circle cx="1459.9" cy="2212.1" r="4.3" fill="none" stroke="#000" stroke-width="1.5"/>
<circle cx="1471.8" cy="2213.6" r="4.3" fill="none" stroke="#000" stroke-width="1.5"/>
<circle cx="1478.4" cy="2226.9" r="4.3" fill="none" stroke="#000" stroke-width="1.5"/>
<circle cx="1478.4" cy="2240.9" r="4.3" fill="none" stroke="#000" stroke-width="1.5"/>
</svg></body></html>
